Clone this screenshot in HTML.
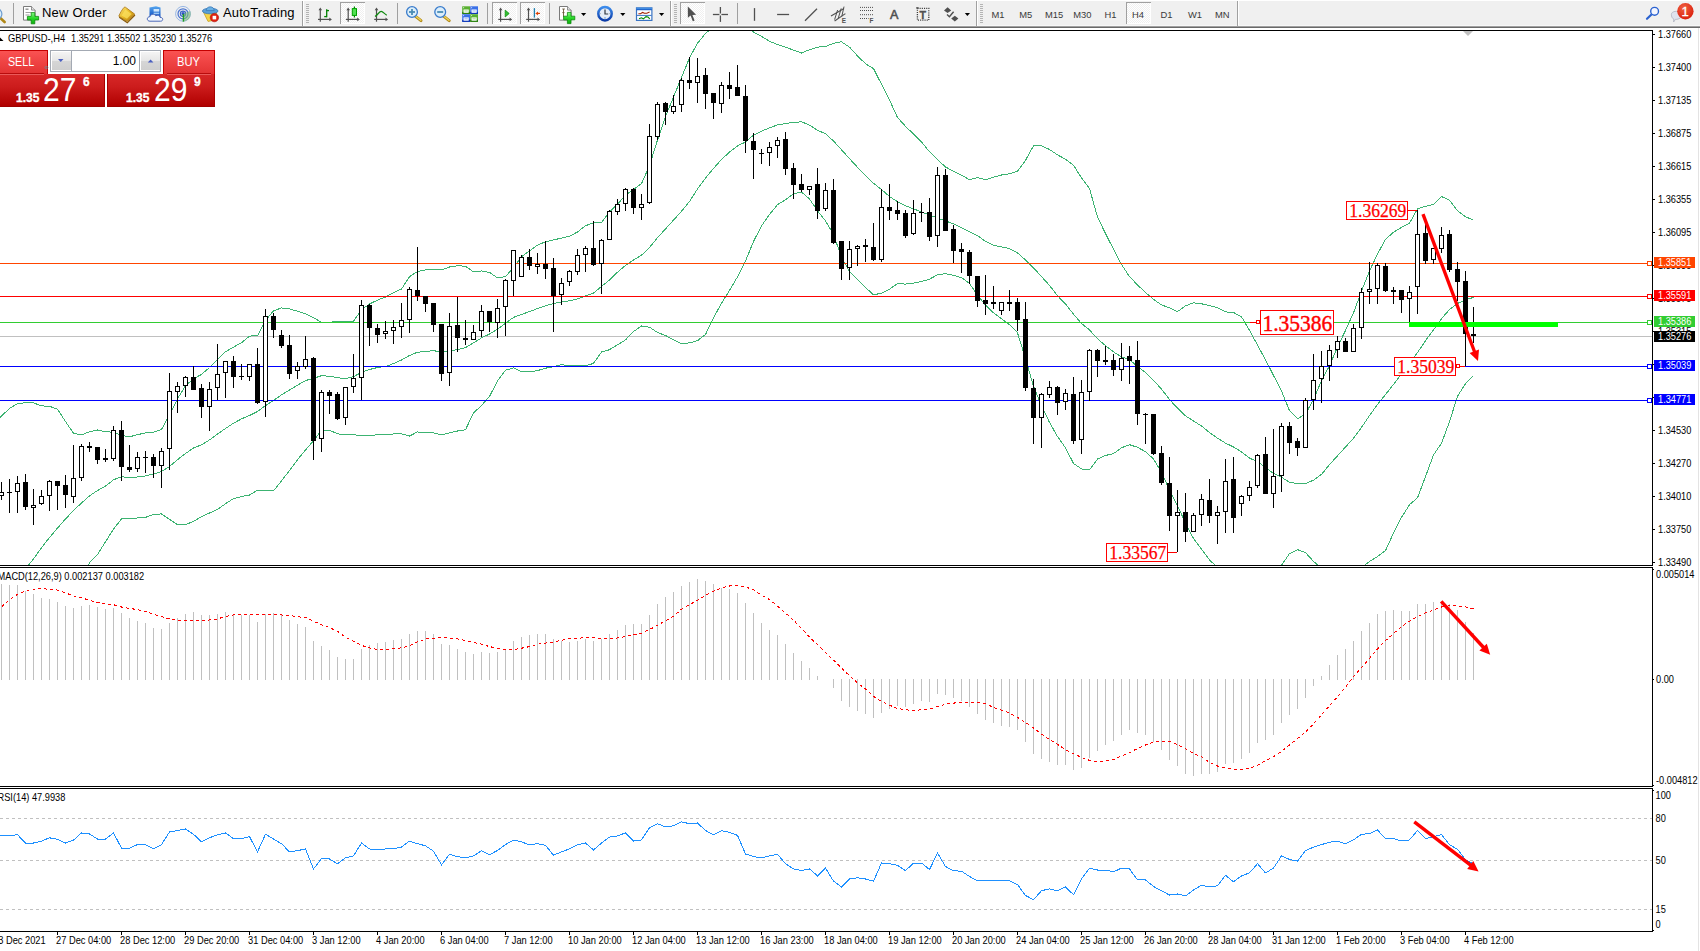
<!DOCTYPE html>
<html><head><meta charset="utf-8"><title>GBPUSD-,H4</title>
<style>
html,body{margin:0;padding:0;background:#fff;}
body{width:1700px;height:951px;overflow:hidden;position:relative;font-family:"Liberation Sans",sans-serif;}
#tb{position:absolute;left:0;top:0;width:1700px;height:26px;background:#f0f0f0;border-top:1px solid #fff;box-sizing:border-box;}
.ln{position:absolute;left:0;width:1700px;height:1px;}
#chart{position:absolute;left:0;top:0;}
.ax{font-size:10.2px;fill:#000;font-family:"Liberation Sans",sans-serif;}
#oc{position:absolute;left:0;top:50px;width:216px;height:57px;font-family:"Liberation Sans",sans-serif;}
</style></head><body>

<div id="tb"></div>
<div class="ln" style="top:25px;background:#f7f7f7"></div>
<div class="ln" style="top:26px;background:#a0a0a0"></div>
<div class="ln" style="top:27px;background:#696969"></div>
<svg style="position:absolute;left:0;top:0" width="1700" height="28" viewBox="0 0 1700 28">
<defs>
<linearGradient id="gold" x1="0" y1="0" x2="1" y2="1"><stop offset="0" stop-color="#fbe27a"/><stop offset="0.5" stop-color="#e8b820"/><stop offset="1" stop-color="#a86c10"/></linearGradient>
<linearGradient id="grn" x1="0" y1="0" x2="0" y2="1"><stop offset="0" stop-color="#86fa86"/><stop offset="0.5" stop-color="#28d828"/><stop offset="1" stop-color="#0cac0c"/></linearGradient>
<linearGradient id="blu" x1="0" y1="0" x2="0" y2="1"><stop offset="0" stop-color="#58a8f0"/><stop offset="1" stop-color="#0a4cc0"/></linearGradient>
<linearGradient id="blu2" x1="0" y1="0" x2="0" y2="1"><stop offset="0" stop-color="#3c8cec"/><stop offset="1" stop-color="#0c3ca8"/></linearGradient>
<radialGradient id="redb" cx="0.4" cy="0.3" r="0.8"><stop offset="0" stop-color="#f06040"/><stop offset="1" stop-color="#d81808"/></radialGradient>
<pattern id="hatch" width="2" height="2" patternUnits="userSpaceOnUse"><rect width="2" height="2" fill="#fff"/><rect width="1" height="1" fill="#f0f0f0"/><rect x="1" y="1" width="1" height="1" fill="#f0f0f0"/></pattern>
</defs>
<line x1="-1" y1="16.8" x2="4.6" y2="22" stroke="#b08818" stroke-width="2.6" stroke-linecap="round"/><circle cx="-3.5" cy="14" r="5.4" fill="#dceefa" stroke="#6a9cd0" stroke-width="1.2"/>
<rect x="13" y="3" width="1" height="21" fill="#a0a0a0"/>
<path d="M23.5 6.5 h8 l3.6 3.6 v10 h-11.6 Z" fill="#fff" stroke="#7a7a7a" stroke-width="1"/><path d="M31.5 6.5 v3.6 h3.6" fill="#e0e0e0" stroke="#7a7a7a" stroke-width="0.8"/>
<rect x="25.5" y="8.5" width="3" height="1.4" fill="#909090"/><rect x="25.5" y="12" width="6" height="1" fill="#a0a0a0"/><rect x="25.5" y="14.5" width="4" height="1" fill="#a0a0a0"/>
<path d="M31.2 12.6 h3.6 v3.8 h3.8 v3.6 h-3.8 v3.8 h-3.6 v-3.8 h-3.8 v-3.6 h3.8 Z" fill="url(#grn)" stroke="#0a8a0a" stroke-width="0.8"/>
<text x="42" y="17" font-family="Liberation Sans, sans-serif" font-size="13" letter-spacing="0.22" fill="#000">New Order</text>
<path d="M118.8 16.2 C120 13 122 10 123.4 8.2 C124 7 125.4 6.8 126.2 7.8 L134.7 14.1 L127.3 21.6 Z" fill="url(#gold)" stroke="#a87410" stroke-width="0.8"/><path d="M121.6 15.4 L125.4 9.6 L131.6 14 L127 18.8 Z" fill="#fbe060" fill-opacity="0.75"/><path d="M119.2 17.2 L127.3 22.8 L135 15" fill="none" stroke="#8a5a08" stroke-width="1.1"/>
<path d="M149.5 7.5 L156 6.2 L160.5 7.5 V17 H149.5 Z" fill="url(#blu)"/><rect x="153.6" y="9" width="5.6" height="2.6" fill="#cfe6fb"/><rect x="153.6" y="12.6" width="5.6" height="1.6" fill="#9cc8f4"/>
<path d="M150 21.2 C146.4 21.2 146.4 16.8 150 16.6 C150.6 13.8 154.8 13.6 155.8 15.8 C157.4 14.6 160 15.4 160 17.4 C163.4 17 163.6 21.2 160.6 21.2 Z" fill="#f2f6fc" stroke="#4a68b8" stroke-width="1"/>
<circle cx="183" cy="13.8" r="7.4" fill="none" stroke="#9ab8e4" stroke-width="1"/><circle cx="183" cy="13.8" r="5" fill="none" stroke="#4a74d0" stroke-width="1.2"/><circle cx="183" cy="13.8" r="2.6" fill="none" stroke="#3a64c8" stroke-width="1.2"/>
<path d="M183 13.8 L183 21.4 A7.6 7.6 0 0 0 190.2 11 Z" fill="#78b878" fill-opacity="0.6"/><circle cx="183" cy="13.4" r="1.5" fill="#2a50c0"/><line x1="183.4" y1="14" x2="183.4" y2="21.6" stroke="#20a020" stroke-width="1.4"/>
<path d="M203.4 12 L216.6 12 L215 20 L208 21.4 Z" fill="#f4d448" stroke="#c8a020" stroke-width="0.8"/><ellipse cx="210.2" cy="11" rx="7.8" ry="2.8" fill="#5aa0d8" stroke="#3a78b8" stroke-width="0.8"/><path d="M206.2 10.6 C206.2 5.6 214.2 5.6 214.2 10.6 Z" fill="#6ab0e4" stroke="#3a78b8" stroke-width="0.8"/>
<circle cx="214.4" cy="17.6" r="4.2" fill="#e02010" stroke="#b01008" stroke-width="0.6"/><rect x="212.6" y="15.8" width="3.6" height="3.6" fill="#fff"/>
<text x="223" y="17" font-family="Liberation Sans, sans-serif" font-size="13" letter-spacing="0.12" fill="#000">AutoTrading</text>
<rect x="302" y="1" width="1" height="25" fill="#a0a0a0"/><rect x="303" y="1" width="1" height="25" fill="#fff"/>
<rect x="306" y="4" width="3" height="1" fill="#b4b4b4"/>
<rect x="306" y="6" width="3" height="1" fill="#b4b4b4"/>
<rect x="306" y="8" width="3" height="1" fill="#b4b4b4"/>
<rect x="306" y="10" width="3" height="1" fill="#b4b4b4"/>
<rect x="306" y="12" width="3" height="1" fill="#b4b4b4"/>
<rect x="306" y="14" width="3" height="1" fill="#b4b4b4"/>
<rect x="306" y="16" width="3" height="1" fill="#b4b4b4"/>
<rect x="306" y="18" width="3" height="1" fill="#b4b4b4"/>
<rect x="306" y="20" width="3" height="1" fill="#b4b4b4"/>
<rect x="306" y="22" width="3" height="1" fill="#b4b4b4"/>
<g stroke="#505050" stroke-width="1.2" fill="#505050"><line x1="320.3" y1="9" x2="320.3" y2="21.7"/><line x1="318.0" y1="19.4" x2="330.3" y2="19.4"/><path d="M320.3 7.6 L322.1 10.2 L318.5 10.2 Z" stroke="none"/><path d="M331.90000000000003 19.4 L329.3 17.6 L329.3 21.2 Z" stroke="none"/></g>
<g stroke="#008000" stroke-width="1.3"><line x1="326.7" y1="9.2" x2="326.7" y2="17.3"/><line x1="326.7" y1="10.6" x2="329" y2="10.6"/><line x1="324.2" y1="16.6" x2="326.7" y2="16.6"/></g>
<rect x="340" y="2" width="25" height="22" fill="url(#hatch)"/><rect x="340" y="2" width="25" height="1" fill="#a0a0a0"/><rect x="340" y="2" width="1" height="22" fill="#a0a0a0"/><rect x="364" y="3" width="1" height="21" fill="#fff"/><rect x="341" y="23" width="24" height="1" fill="#fff"/>
<g stroke="#505050" stroke-width="1.2" fill="#505050"><line x1="348.2" y1="9" x2="348.2" y2="21.7"/><line x1="345.9" y1="19.4" x2="358.2" y2="19.4"/><path d="M348.2 7.6 L350.0 10.2 L346.4 10.2 Z" stroke="none"/><path d="M359.8 19.4 L357.2 17.6 L357.2 21.2 Z" stroke="none"/></g>
<line x1="354.4" y1="6.4" x2="354.4" y2="17.6" stroke="#008000" stroke-width="1.2"/><rect x="352.3" y="8.6" width="4.2" height="6.8" fill="#50e050" stroke="#00a000" stroke-width="1"/>
<g stroke="#505050" stroke-width="1.2" fill="#505050"><line x1="376.5" y1="9" x2="376.5" y2="21.7"/><line x1="374.2" y1="19.4" x2="386.5" y2="19.4"/><path d="M376.5 7.6 L378.3 10.2 L374.7 10.2 Z" stroke="none"/><path d="M388.1 19.4 L385.5 17.6 L385.5 21.2 Z" stroke="none"/></g>
<path d="M375 16.6 C378 14.6 379.4 11.2 381.2 11.3 C383 11.4 384.4 14 386.8 15.3" fill="none" stroke="#108a10" stroke-width="1.2"/>
<rect x="397" y="3" width="1" height="21" fill="#a0a0a0"/>
<line x1="415.6" y1="16.4" x2="421" y2="20.6" stroke="#b08818" stroke-width="3" stroke-linecap="round"/><line x1="415.8" y1="16.2" x2="420.8" y2="20.2" stroke="#f0d458" stroke-width="1.4" stroke-linecap="round"/>
<circle cx="412" cy="12" r="5.4" fill="#dceefa" stroke="#3a7ccc" stroke-width="1.3"/>
<line x1="409" y1="12" x2="415" y2="12" stroke="#4a8cb4" stroke-width="1.8"/>
<line x1="412" y1="9" x2="412" y2="15" stroke="#4a8cb4" stroke-width="1.8"/>
<line x1="443.8" y1="16.4" x2="449.2" y2="20.6" stroke="#b08818" stroke-width="3" stroke-linecap="round"/><line x1="444.0" y1="16.2" x2="449.0" y2="20.2" stroke="#f0d458" stroke-width="1.4" stroke-linecap="round"/>
<circle cx="440.2" cy="12" r="5.4" fill="#dceefa" stroke="#3a7ccc" stroke-width="1.3"/>
<line x1="437.2" y1="12" x2="443.2" y2="12" stroke="#4a8cb4" stroke-width="1.8"/>
<rect x="462.2" y="6.3" width="7.8" height="7.7" fill="#58b030"/><rect x="462.2" y="11.8" width="7.8" height="2.2" fill="#2a8010"/><rect x="463.5" y="9.5" width="5.2" height="3.3" fill="#fff"/><rect x="464.4" y="10.5" width="3.4" height="0.9" fill="#58b030" fill-opacity="0.6"/><rect x="463.09999999999997" y="7.2" width="1" height="1" fill="#fff" fill-opacity="0.8"/>
<rect x="470.2" y="6.3" width="7.8" height="7.7" fill="#3a70e8"/><rect x="470.2" y="11.8" width="7.8" height="2.2" fill="#1038b8"/><rect x="471.5" y="9.5" width="5.2" height="3.3" fill="#fff"/><rect x="472.4" y="10.5" width="3.4" height="0.9" fill="#3a70e8" fill-opacity="0.6"/><rect x="471.09999999999997" y="7.2" width="1" height="1" fill="#fff" fill-opacity="0.8"/>
<rect x="462.2" y="14.2" width="7.8" height="7.7" fill="#3a70e8"/><rect x="462.2" y="19.7" width="7.8" height="2.2" fill="#1038b8"/><rect x="463.5" y="17.4" width="5.2" height="3.3" fill="#fff"/><rect x="464.4" y="18.4" width="3.4" height="0.9" fill="#3a70e8" fill-opacity="0.6"/><rect x="463.09999999999997" y="15.1" width="1" height="1" fill="#fff" fill-opacity="0.8"/>
<rect x="470.2" y="14.2" width="7.8" height="7.7" fill="#58b030"/><rect x="470.2" y="19.7" width="7.8" height="2.2" fill="#2a8010"/><rect x="471.5" y="17.4" width="5.2" height="3.3" fill="#fff"/><rect x="472.4" y="18.4" width="3.4" height="0.9" fill="#58b030" fill-opacity="0.6"/><rect x="471.09999999999997" y="15.1" width="1" height="1" fill="#fff" fill-opacity="0.8"/>
<rect x="487" y="3" width="1" height="21" fill="#a0a0a0"/>
<rect x="492" y="2" width="25" height="22" fill="url(#hatch)"/><rect x="492" y="2" width="25" height="1" fill="#a0a0a0"/><rect x="492" y="2" width="1" height="22" fill="#a0a0a0"/><rect x="516" y="3" width="1" height="21" fill="#fff"/><rect x="493" y="23" width="24" height="1" fill="#fff"/>
<g stroke="#505050" stroke-width="1.2" fill="#505050"><line x1="500.6" y1="9" x2="500.6" y2="21.7"/><line x1="498.3" y1="19.4" x2="510.6" y2="19.4"/><path d="M500.6 7.6 L502.40000000000003 10.2 L498.8 10.2 Z" stroke="none"/><path d="M512.2 19.4 L509.6 17.6 L509.6 21.2 Z" stroke="none"/></g>
<path d="M505.2 10.2 L505.2 16.9 L509.2 13.5 Z" fill="#30c030" stroke="#109010" stroke-width="0.8"/>
<rect x="520" y="2" width="25" height="22" fill="url(#hatch)"/><rect x="520" y="2" width="25" height="1" fill="#a0a0a0"/><rect x="520" y="2" width="1" height="22" fill="#a0a0a0"/><rect x="544" y="3" width="1" height="21" fill="#fff"/><rect x="521" y="23" width="24" height="1" fill="#fff"/>
<g stroke="#505050" stroke-width="1.2" fill="#505050"><line x1="528.5" y1="9" x2="528.5" y2="21.7"/><line x1="526.2" y1="19.4" x2="538.5" y2="19.4"/><path d="M528.5 7.6 L530.3 10.2 L526.7 10.2 Z" stroke="none"/><path d="M540.1 19.4 L537.5 17.6 L537.5 21.2 Z" stroke="none"/></g>
<line x1="534.4" y1="8.1" x2="534.4" y2="17.6" stroke="#2080b0" stroke-width="1.3"/><path d="M535.4 13.4 L538 11.6 L538 15.2 Z" fill="#e04000"/><line x1="537" y1="13.4" x2="540" y2="13.4" stroke="#e04000" stroke-width="1.2"/>
<rect x="549" y="3" width="1" height="21" fill="#a0a0a0"/>
<path d="M559.5 6.5 h8 l3.6 3.6 v10 h-11.6 Z" fill="#fff" stroke="#7a7a7a" stroke-width="1"/><path d="M567.5 6.5 v3.6 h3.6" fill="#e0e0e0" stroke="#7a7a7a" stroke-width="0.8"/>
<path d="M563.5 9 v8 M562.3 9 h2.6 M562.3 12.6 h2.2" stroke="#6a5a3a" stroke-width="0.9" fill="none"/>
<path d="M567.4000000000001 12.4 h3.6 v3.8 h3.8 v3.6 h-3.8 v3.8 h-3.6 v-3.8 h-3.8 v-3.6 h3.8 Z" fill="url(#grn)" stroke="#0a8a0a" stroke-width="0.8"/>
<path d="M581 13 L586.2 13 L583.6 16 Z" fill="#000"/>
<circle cx="605" cy="13.7" r="6.7" fill="#e4ecf6" stroke="url(#blu2)" stroke-width="2.5"/><path d="M605 9.6 V14 H608.2" fill="none" stroke="#303840" stroke-width="1.2"/><g fill="#8a98a8"><rect x="604.6" y="8.4" width="0.8" height="1"/><rect x="604.6" y="18" width="0.8" height="1"/><rect x="599.8" y="13.3" width="1" height="0.8"/><rect x="609.2" y="13.3" width="1" height="0.8"/></g><circle cx="605" cy="17.6" r="0.7" fill="#5aa0f0"/>
<path d="M620.2 13 L625.4000000000001 13 L622.8000000000001 16 Z" fill="#000"/>
<rect x="636.5" y="7.8" width="15.4" height="12.6" fill="#fff" stroke="#3a74c4" stroke-width="1.2"/><rect x="636.5" y="7.8" width="15.4" height="2.4" fill="url(#blu)"/><line x1="637" y1="15.4" x2="651.6" y2="15.4" stroke="#3a74c4" stroke-width="1"/>
<path d="M638.4 13.8 L640.6 13.8 L642.6 12.4 L644.4 13.2 L646.8 13.2 L649.6 12" fill="none" stroke="#a02000" stroke-width="1.1"/><path d="M639 18.8 L641.4 17.8 L643.4 18.8 L646 16.6 L648 17 L649.8 18.8" fill="none" stroke="#008a00" stroke-width="1.1"/>
<path d="M659 13 L664.2 13 L661.6 16 Z" fill="#000"/>
<rect x="670" y="1" width="1" height="25" fill="#a0a0a0"/><rect x="671" y="1" width="1" height="25" fill="#fff"/>
<rect x="674" y="4" width="3" height="1" fill="#b4b4b4"/>
<rect x="674" y="6" width="3" height="1" fill="#b4b4b4"/>
<rect x="674" y="8" width="3" height="1" fill="#b4b4b4"/>
<rect x="674" y="10" width="3" height="1" fill="#b4b4b4"/>
<rect x="674" y="12" width="3" height="1" fill="#b4b4b4"/>
<rect x="674" y="14" width="3" height="1" fill="#b4b4b4"/>
<rect x="674" y="16" width="3" height="1" fill="#b4b4b4"/>
<rect x="674" y="18" width="3" height="1" fill="#b4b4b4"/>
<rect x="674" y="20" width="3" height="1" fill="#b4b4b4"/>
<rect x="674" y="22" width="3" height="1" fill="#b4b4b4"/>
<rect x="680" y="2" width="25" height="22" fill="url(#hatch)"/><rect x="680" y="2" width="25" height="1" fill="#a0a0a0"/><rect x="680" y="2" width="1" height="22" fill="#a0a0a0"/><rect x="704" y="3" width="1" height="21" fill="#fff"/><rect x="681" y="23" width="24" height="1" fill="#fff"/>
<path d="M687.8 6.6 L687.9 17.8 L690.6 15.4 L692.8 21.2 L694.6 20.4 L692.4 14.9 L696.1 14.7 Z" fill="#505050"/>
<g stroke="#505050" stroke-width="1.3"><line x1="712.9" y1="14.5" x2="719.4" y2="14.5"/><line x1="721.4" y1="14.5" x2="728" y2="14.5"/><line x1="720.4" y1="7" x2="720.4" y2="13.5"/><line x1="720.4" y1="15.5" x2="720.4" y2="21.9"/></g>
<rect x="737" y="3" width="1" height="21" fill="#a0a0a0"/>
<g stroke="#505050" stroke-width="1.3"><line x1="754.5" y1="8.1" x2="754.5" y2="20.8"/><line x1="777.1" y1="14.5" x2="789.1" y2="14.5"/><line x1="805" y1="20.8" x2="817" y2="8.8"/></g>
<g stroke="#505050" stroke-width="1.15" fill="none"><line x1="831" y1="16" x2="844" y2="8.6"/><line x1="834.6" y1="21" x2="845.4" y2="13.6"/><g stroke-width="1"><line x1="834.6" y1="19.6" x2="837.6" y2="10"/><line x1="838.2" y1="18.4" x2="841.2" y2="8.4"/><line x1="841.8" y1="16.4" x2="844" y2="6.6"/></g></g>
<text x="841.8" y="22.6" font-family="Liberation Sans, sans-serif" font-size="6.4" font-weight="bold" fill="#505050">E</text>
<line x1="860" y1="7.4" x2="873" y2="7.4" stroke="#505050" stroke-width="1" stroke-dasharray="1 1"/>
<line x1="860" y1="10.5" x2="873" y2="10.5" stroke="#505050" stroke-width="1" stroke-dasharray="1 1"/>
<line x1="860" y1="14.7" x2="873" y2="14.7" stroke="#505050" stroke-width="1" stroke-dasharray="1 1"/>
<line x1="860" y1="18.5" x2="868.6" y2="18.5" stroke="#505050" stroke-width="1" stroke-dasharray="1 1"/>
<text x="869.6" y="22.6" font-family="Liberation Sans, sans-serif" font-size="6.4" font-weight="bold" fill="#505050">F</text>
<text x="890" y="18.9" font-family="Liberation Sans, sans-serif" font-size="12.6" fill="#505050" stroke="#505050" stroke-width="0.55">A</text>
<rect x="917.4" y="8.4" width="11.4" height="11.8" fill="none" stroke="#3c3c3c" stroke-width="1.3" stroke-dasharray="1.1 1.1"/><rect x="916.2" y="7.2" width="2.4" height="1.4" fill="#505050"/>
<text x="919.4" y="18.6" font-family="Liberation Sans, sans-serif" font-size="10.8" font-weight="bold" fill="#505050" stroke="#505050" stroke-width="0.3">T</text>
<path d="M947.6 7.2 L951.2 10.4 L947.6 13 L944 10.4 Z" fill="#505050"/><path d="M954.8 21.6 L958.4 18.4 L954.8 15.8 L951.2 18.4 Z" fill="#505050"/><path d="M947 14.6 L949.4 16.8 L953.6 11.8" fill="none" stroke="#505050" stroke-width="1.4"/>
<path d="M964.8 13 L970.0 13 L967.4 16 Z" fill="#000"/>
<rect x="976" y="1" width="1" height="25" fill="#a0a0a0"/><rect x="977" y="1" width="1" height="25" fill="#fff"/>
<rect x="980" y="4" width="3" height="1" fill="#b4b4b4"/>
<rect x="980" y="6" width="3" height="1" fill="#b4b4b4"/>
<rect x="980" y="8" width="3" height="1" fill="#b4b4b4"/>
<rect x="980" y="10" width="3" height="1" fill="#b4b4b4"/>
<rect x="980" y="12" width="3" height="1" fill="#b4b4b4"/>
<rect x="980" y="14" width="3" height="1" fill="#b4b4b4"/>
<rect x="980" y="16" width="3" height="1" fill="#b4b4b4"/>
<rect x="980" y="18" width="3" height="1" fill="#b4b4b4"/>
<rect x="980" y="20" width="3" height="1" fill="#b4b4b4"/>
<rect x="980" y="22" width="3" height="1" fill="#b4b4b4"/>
<rect x="1126" y="2" width="25" height="22" fill="url(#hatch)"/><rect x="1126" y="2" width="25" height="1" fill="#a0a0a0"/><rect x="1126" y="2" width="1" height="22" fill="#a0a0a0"/><rect x="1150" y="3" width="1" height="21" fill="#fff"/><rect x="1127" y="23" width="24" height="1" fill="#fff"/>
<text x="998" y="18" text-anchor="middle" font-family="Liberation Sans, sans-serif" font-size="9.4" fill="#3a3a3a">M1</text>
<text x="1025.7" y="18" text-anchor="middle" font-family="Liberation Sans, sans-serif" font-size="9.4" fill="#3a3a3a">M5</text>
<text x="1054.2" y="18" text-anchor="middle" font-family="Liberation Sans, sans-serif" font-size="9.4" fill="#3a3a3a">M15</text>
<text x="1082.4" y="18" text-anchor="middle" font-family="Liberation Sans, sans-serif" font-size="9.4" fill="#3a3a3a">M30</text>
<text x="1110.5" y="18" text-anchor="middle" font-family="Liberation Sans, sans-serif" font-size="9.4" fill="#3a3a3a">H1</text>
<text x="1138" y="18" text-anchor="middle" font-family="Liberation Sans, sans-serif" font-size="9.4" fill="#3a3a3a">H4</text>
<text x="1166.4" y="18" text-anchor="middle" font-family="Liberation Sans, sans-serif" font-size="9.4" fill="#3a3a3a">D1</text>
<text x="1195" y="18" text-anchor="middle" font-family="Liberation Sans, sans-serif" font-size="9.4" fill="#3a3a3a">W1</text>
<text x="1222.2" y="18" text-anchor="middle" font-family="Liberation Sans, sans-serif" font-size="9.4" fill="#3a3a3a">MN</text>
<rect x="1237" y="1" width="1" height="25" fill="#a0a0a0"/><rect x="1238" y="1" width="1" height="24" fill="#fff"/>
<line x1="1652" y1="14" x2="1647" y2="18.8" stroke="#2a62d0" stroke-width="2.2" stroke-linecap="round"/><circle cx="1654.6" cy="11.3" r="3.9" fill="#f4f6ff" stroke="#2a62d0" stroke-width="1.4"/>
<path d="M1671.4 14.4 C1671.4 10.2 1681.6 10.2 1681.6 14.8 C1681.6 19 1677 19.4 1675.4 19.4 L1673.6 22 L1673.8 19 C1672 18.4 1671.4 16.4 1671.4 14.4 Z" fill="#dfe3ee" stroke="#b4b8c4" stroke-width="0.9"/>
<circle cx="1685.4" cy="11.3" r="8.2" fill="url(#redb)"/>
<text x="1685.2" y="15.8" text-anchor="middle" font-family="Liberation Sans, sans-serif" font-size="13" fill="#fff" stroke="#fff" stroke-width="0.3">1</text>
</svg>
<div id="oc">
<style>
#oc div{position:absolute;box-sizing:border-box;}
#oc .top{top:0;height:25px;background:linear-gradient(#fa5252,#e23232);border-top:1px solid #c40000;}
#oc .bot{top:24px;height:33px;background:linear-gradient(#d82828,#cc1c1c 40%,#b00000);border-right:1px solid #a80000;border-bottom:1px solid #a00000;}
#oc .lbl{color:#fff;font-size:12px;line-height:12px;top:5.9px;white-space:nowrap;transform-origin:0 0;}
#oc .ul{height:2px;top:23px;background:linear-gradient(#b80c0c 50%,#ea5a5a 50%);}
#oc .sm{color:#fff;font-weight:bold;font-size:12px;line-height:12px;top:42.2px;white-space:nowrap;-webkit-text-stroke:0.35px #fff;}
#oc .big{color:#fff;font-size:33.4px;line-height:33px;top:22.9px;white-space:nowrap;transform:scaleX(0.9);transform-origin:0 0;}
#oc .sup{color:#fff;font-weight:bold;font-size:12px;line-height:12px;top:26px;white-space:nowrap;-webkit-text-stroke:0.3px #fff;}
#oc .btn{top:2px;height:18px;width:19px;background:linear-gradient(#f4f4f4,#e6e6e6 48%,#d6d6d6 52%,#cfcfcf);}
</style>
<div class="top" style="left:0;width:48px;border-right:1px solid #c40000;"></div>
<div class="top" style="left:163px;width:52px;border-left:1px solid #c40000;border-right:1px solid #c40000;"></div>
<div class="bot" style="left:0;width:105px;"></div>
<div class="bot" style="left:107px;width:108px;border-left:1px solid #a80000;"></div>
<div class="ul" style="left:0;width:44px;"></div>
<div class="ul" style="left:167px;width:44px;"></div>
<div class="lbl" style="left:8px;transform:scaleX(0.89);">SELL</div>
<div class="lbl" style="left:176.5px;transform:scaleX(0.93);">BUY</div>
<div style="left:48px;top:0;width:115px;height:24px;background:#fff;"></div>
<div style="left:50px;top:0;width:111px;height:22px;background:#fff;border:1px solid #a3a9b3;"></div>
<div class="btn" style="left:52px;"></div>
<div class="btn" style="left:141px;"></div>
<div style="left:71px;top:1px;width:1px;height:20px;background:#a3a9b3;"></div>
<div style="left:139px;top:1px;width:1px;height:20px;background:#a3a9b3;"></div>
<svg style="position:absolute;left:0;top:0" width="216" height="57"><path d="M58 9 L63.5 9 L60.75 12 Z" fill="#4a5fc0"/><path d="M147.8 12.6 L153.4 12.6 L150.6 9.6 Z" fill="#4a5fc0"/><path d="M46.5 16 L48 17.5 L46.5 19 L45 17.5 Z" fill="none" stroke="#30b0c0" stroke-width="0.7"/></svg>
<div style="left:100px;top:5.2px;width:36px;text-align:right;font-size:12px;line-height:12px;color:#000;">1.00</div>
<div class="sm" style="left:16px;">1.35</div>
<div class="big" style="left:43.2px;">27</div>
<div class="sup" style="left:83px;">6</div>
<div class="sm" style="left:126px;">1.35</div>
<div class="big" style="left:154px;">29</div>
<div class="sup" style="left:194px;">9</div>
</div>

<svg id="chart" width="1700" height="951" viewBox="0 0 1700 951">
<defs><clipPath id="cm"><rect x="0" y="31" width="1652" height="534"/></clipPath><clipPath id="c2"><rect x="0" y="568" width="1652" height="218"/></clipPath><clipPath id="c3"><rect x="0" y="789" width="1652" height="142"/></clipPath></defs>
<g shape-rendering="crispEdges" fill="#000">
<rect x="0" y="30" width="1653" height="1"/>
<rect x="1652" y="30" width="1" height="536"/><rect x="1652" y="567" width="1" height="220"/><rect x="1652" y="788" width="1" height="144"/>
<rect x="0" y="565" width="1653" height="1"/>
<rect x="0" y="567" width="1653" height="1"/>
<rect x="0" y="786" width="1653" height="1"/>
<rect x="0" y="788" width="1653" height="1"/>
<rect x="0" y="931" width="1653" height="1"/>
</g>
<rect x="1698" y="28" width="1" height="923" fill="#e3e3e3" shape-rendering="crispEdges"/>
<g clip-path="url(#cm)">
<rect x="0" y="336" width="1652" height="1" fill="#c0c0c0" shape-rendering="crispEdges"/>
<polyline points="-6.5,423.5 1.5,416.0 9.5,408.5 17.5,403.5 25.5,402.8 33.5,402.8 41.5,405.9 49.5,406.3 57.5,409.2 65.5,421.5 73.5,433.3 81.5,434.9 89.5,431.7 97.5,430.0 105.5,431.7 113.5,432.3 121.5,435.3 129.5,436.8 137.5,434.7 145.5,432.9 153.5,432.3 161.5,429.4 169.5,414.9 177.5,398.8 185.5,385.7 193.5,378.9 201.5,374.4 209.5,367.5 217.5,359.5 225.5,351.8 233.5,347.1 241.5,342.7 249.5,336.1 257.5,335.7 265.5,320.6 273.5,310.8 281.5,307.9 289.5,308.9 297.5,311.2 305.5,313.7 313.5,317.7 321.5,322.3 329.5,322.3 337.5,321.3 345.5,321.1 353.5,321.1 361.5,309.8 369.5,304.0 377.5,300.1 385.5,297.1 393.5,292.6 401.5,289.0 409.5,276.7 417.5,271.5 425.5,269.9 433.5,269.5 441.5,269.9 449.5,267.0 457.5,265.8 465.5,266.2 473.5,272.0 481.5,270.9 489.5,272.4 497.5,277.9 505.5,276.7 513.5,267.5 521.5,256.8 529.5,250.9 537.5,245.1 545.5,241.7 553.5,239.9 561.5,238.1 569.5,236.2 577.5,232.0 585.5,225.7 593.5,222.9 601.5,222.5 609.5,212.0 617.5,204.2 625.5,195.2 633.5,189.4 641.5,183.7 649.5,165.5 657.5,140.0 665.5,116.5 673.5,97.0 681.5,77.5 689.5,57.9 697.5,43.2 705.5,33.5 713.5,26.5 721.5,21.5 729.5,19.5 737.5,21.5 745.5,26.5 753.5,32.0 761.5,36.4 769.5,41.3 777.5,44.6 785.5,47.1 793.5,50.1 801.5,53.0 809.5,49.7 817.5,47.1 825.5,46.7 833.5,43.2 841.5,41.8 849.5,47.1 857.5,55.9 865.5,63.7 873.5,68.6 881.5,84.3 889.5,99.9 897.5,117.5 905.5,126.3 913.5,134.1 921.5,142.0 929.5,151.7 937.5,159.6 945.5,167.0 953.5,171.3 961.5,175.2 969.5,179.7 977.5,177.5 985.5,179.7 993.5,177.2 1001.5,175.0 1009.5,173.7 1017.5,171.3 1025.5,160.3 1033.5,145.9 1041.5,145.7 1049.5,149.5 1057.5,154.8 1065.5,159.3 1073.5,165.2 1081.5,177.9 1089.5,188.6 1097.5,217.0 1105.5,233.6 1113.5,249.2 1121.5,264.5 1129.5,276.6 1137.5,284.9 1145.5,292.5 1153.5,299.4 1161.5,304.9 1169.5,307.9 1177.5,311.6 1185.5,305.9 1193.5,302.8 1201.5,303.8 1209.5,305.5 1217.5,307.8 1225.5,311.9 1233.5,312.5 1241.5,316.8 1249.5,330.4 1257.5,345.1 1265.5,359.8 1273.5,375.4 1281.5,390.9 1289.5,410.7 1297.5,418.7 1305.5,414.1 1313.5,399.3 1321.5,380.9 1329.5,365.6 1337.5,347.1 1345.5,330.4 1353.5,312.8 1361.5,291.3 1369.5,270.8 1377.5,254.2 1385.5,239.2 1393.5,232.3 1401.5,227.4 1409.5,223.1 1417.5,208.9 1425.5,206.3 1433.5,204.4 1441.5,196.5 1449.5,200.1 1457.5,210.8 1465.5,216.7 1473.5,220.2" fill="none" stroke="#3cb371" stroke-width="1" shape-rendering="crispEdges" />
<polyline points="-6.5,610.5 1.5,600.5 9.5,590.5 17.5,578.5 25.5,568.5 33.5,559.0 41.5,547.7 49.5,537.5 57.5,528.1 65.5,519.0 73.5,510.5 81.5,503.0 89.5,495.9 97.5,490.5 105.5,486.1 113.5,479.8 121.5,476.7 129.5,477.7 137.5,477.0 145.5,475.9 153.5,474.0 161.5,471.5 169.5,466.5 177.5,459.7 185.5,453.5 193.5,448.0 201.5,444.8 209.5,439.9 217.5,434.0 225.5,428.5 233.5,423.2 241.5,418.9 249.5,415.5 257.5,411.5 265.5,405.6 273.5,400.4 281.5,394.9 289.5,390.0 297.5,385.1 305.5,380.6 313.5,378.3 321.5,375.7 329.5,376.3 337.5,377.7 345.5,378.7 353.5,376.7 361.5,372.4 369.5,369.5 377.5,367.5 385.5,366.5 393.5,363.6 401.5,360.0 409.5,355.5 417.5,352.2 425.5,351.6 433.5,350.6 441.5,352.2 449.5,350.6 457.5,349.7 465.5,347.7 473.5,342.8 481.5,337.9 489.5,334.0 497.5,329.1 505.5,323.3 513.5,317.4 521.5,314.5 529.5,311.5 537.5,308.6 545.5,305.7 553.5,303.7 561.5,301.8 569.5,300.8 577.5,298.8 585.5,295.9 593.5,293.0 601.5,286.5 609.5,280.0 617.5,272.2 625.5,265.5 633.5,260.0 641.5,255.2 649.5,247.5 657.5,237.7 665.5,228.9 673.5,220.1 681.5,211.3 689.5,201.5 697.5,188.9 705.5,178.1 713.5,168.4 721.5,159.5 729.5,152.1 737.5,145.9 745.5,142.0 753.5,135.1 761.5,131.2 769.5,127.9 777.5,124.9 785.5,123.5 793.5,122.4 801.5,121.8 809.5,125.1 817.5,130.2 825.5,133.7 833.5,141.0 841.5,149.8 849.5,158.6 857.5,167.3 865.5,175.5 873.5,183.2 881.5,189.5 889.5,196.5 897.5,201.7 905.5,205.8 913.5,208.8 921.5,212.1 929.5,215.0 937.5,218.0 945.5,220.9 953.5,223.8 961.5,227.7 969.5,231.6 977.5,235.6 985.5,241.4 993.5,245.3 1001.5,246.8 1009.5,248.7 1017.5,252.9 1025.5,260.0 1033.5,267.8 1041.5,276.6 1049.5,285.4 1057.5,295.7 1065.5,304.0 1073.5,314.2 1081.5,323.5 1089.5,329.9 1097.5,338.8 1105.5,345.6 1113.5,351.9 1121.5,356.8 1129.5,359.7 1137.5,366.5 1145.5,372.4 1153.5,380.3 1161.5,389.1 1169.5,399.5 1177.5,408.2 1185.5,415.8 1193.5,421.0 1201.5,426.0 1209.5,432.5 1217.5,438.2 1225.5,443.1 1233.5,447.0 1241.5,451.9 1249.5,458.1 1257.5,461.6 1265.5,467.5 1273.5,473.4 1281.5,477.3 1289.5,482.2 1297.5,483.7 1305.5,483.5 1313.5,480.2 1321.5,474.4 1329.5,464.6 1337.5,455.8 1345.5,447.0 1353.5,438.2 1361.5,427.4 1369.5,415.6 1377.5,404.4 1385.5,394.6 1393.5,384.4 1401.5,374.1 1409.5,362.9 1417.5,352.6 1425.5,340.7 1433.5,329.9 1441.5,318.7 1449.5,309.5 1457.5,303.5 1465.5,299.8 1473.5,297.4" fill="none" stroke="#3cb371" stroke-width="1" shape-rendering="crispEdges" />
<polyline points="-6.5,710.5 1.5,700.5 9.5,690.5 17.5,680.5 25.5,670.5 33.5,660.5 41.5,650.5 49.5,640.5 57.5,630.5 65.5,615.5 73.5,600.5 81.5,585.5 89.5,562.5 97.5,554.5 105.5,541.8 113.5,529.1 121.5,518.9 129.5,518.5 137.5,518.0 145.5,517.4 153.5,514.5 161.5,513.9 169.5,519.3 177.5,524.8 185.5,524.8 193.5,521.3 201.5,516.8 209.5,513.0 217.5,509.4 225.5,503.7 233.5,498.6 241.5,496.6 249.5,495.0 257.5,490.1 265.5,490.9 273.5,490.9 281.5,481.0 289.5,470.4 297.5,459.7 305.5,449.9 313.5,440.8 321.5,430.2 329.5,430.2 337.5,433.8 345.5,434.9 353.5,434.5 361.5,435.9 369.5,435.3 377.5,434.9 385.5,434.9 393.5,434.0 401.5,433.8 409.5,436.0 417.5,431.9 425.5,432.9 433.5,432.9 441.5,434.9 449.5,432.9 457.5,431.0 465.5,429.7 473.5,412.9 481.5,405.5 489.5,396.5 497.5,381.0 505.5,370.2 513.5,367.9 521.5,371.8 529.5,371.8 537.5,370.6 545.5,368.2 553.5,366.7 561.5,364.7 569.5,365.9 577.5,365.9 585.5,365.9 593.5,363.4 601.5,352.0 609.5,349.7 617.5,344.8 625.5,339.9 633.5,331.5 641.5,326.0 649.5,327.2 657.5,332.5 665.5,335.5 673.5,339.7 681.5,343.6 689.5,342.9 697.5,340.7 705.5,334.5 713.5,317.8 721.5,303.2 729.5,290.5 737.5,276.8 745.5,261.1 753.5,241.5 761.5,225.9 769.5,214.4 777.5,204.7 785.5,199.8 793.5,193.8 801.5,192.0 809.5,199.0 817.5,210.8 825.5,220.9 833.5,234.6 841.5,257.1 849.5,271.7 857.5,279.6 865.5,287.4 873.5,294.8 881.5,293.2 889.5,289.3 897.5,283.5 905.5,284.1 913.5,283.1 921.5,281.5 929.5,279.2 937.5,274.7 945.5,273.7 953.5,275.3 961.5,277.6 969.5,283.5 977.5,295.2 985.5,305.0 993.5,312.8 1001.5,318.7 1009.5,324.8 1017.5,332.8 1025.5,358.7 1033.5,386.2 1041.5,405.7 1049.5,422.4 1057.5,436.5 1065.5,447.8 1073.5,463.5 1081.5,468.9 1089.5,469.9 1097.5,459.0 1105.5,455.5 1113.5,453.6 1121.5,447.8 1129.5,444.7 1137.5,447.3 1145.5,451.7 1153.5,459.0 1161.5,472.4 1169.5,490.0 1177.5,505.6 1185.5,523.2 1193.5,538.5 1201.5,549.1 1209.5,559.9 1217.5,567.5 1225.5,573.5 1233.5,578.5 1241.5,582.5 1249.5,584.5 1257.5,582.5 1265.5,578.5 1273.5,572.5 1281.5,565.3 1289.5,553.6 1297.5,549.6 1305.5,552.6 1313.5,561.4 1321.5,568.0 1329.5,572.5 1337.5,575.5 1345.5,570.5 1353.5,566.0 1361.5,567.5 1369.5,561.4 1377.5,556.5 1385.5,550.6 1393.5,533.0 1401.5,517.4 1409.5,504.7 1417.5,497.8 1425.5,476.5 1433.5,455.0 1441.5,443.2 1449.5,421.7 1457.5,396.3 1465.5,383.6 1473.5,375.8" fill="none" stroke="#3cb371" stroke-width="1" shape-rendering="crispEdges" />
<rect x="0" y="263" width="1652" height="1" fill="#ff4500" shape-rendering="crispEdges"/>
<rect x="0" y="296" width="1652" height="1" fill="#ff0000" shape-rendering="crispEdges"/>
<rect x="0" y="322" width="1652" height="1" fill="#32cd32" shape-rendering="crispEdges"/>
<rect x="0" y="366" width="1652" height="1" fill="#0000ff" shape-rendering="crispEdges"/>
<rect x="0" y="400" width="1652" height="1" fill="#0000ff" shape-rendering="crispEdges"/>
<g shape-rendering="crispEdges">
<rect x="1" y="482" width="1" height="18" fill="#000"/>
<rect x="-1" y="492" width="5" height="4" fill="#000"/><rect x="0" y="493" width="3" height="2" fill="#fff"/>
<rect x="9" y="479" width="1" height="34" fill="#000"/>
<rect x="7" y="492" width="5" height="1" fill="#000"/>
<rect x="17" y="476" width="1" height="37" fill="#000"/>
<rect x="15" y="483" width="5" height="9" fill="#000"/><rect x="16" y="484" width="3" height="7" fill="#fff"/>
<rect x="25" y="474" width="1" height="36" fill="#000"/>
<rect x="23" y="482" width="5" height="25" fill="#000"/>
<rect x="33" y="489" width="1" height="36" fill="#000"/>
<rect x="31" y="505" width="5" height="3" fill="#000"/><rect x="32" y="506" width="3" height="1" fill="#fff"/>
<rect x="41" y="490" width="1" height="15" fill="#000"/>
<rect x="39" y="496" width="5" height="8" fill="#000"/><rect x="40" y="497" width="3" height="6" fill="#fff"/>
<rect x="49" y="480" width="1" height="31" fill="#000"/>
<rect x="47" y="481" width="5" height="15" fill="#000"/><rect x="48" y="482" width="3" height="13" fill="#fff"/>
<rect x="57" y="481" width="1" height="29" fill="#000"/>
<rect x="55" y="481" width="5" height="5" fill="#000"/>
<rect x="65" y="475" width="1" height="33" fill="#000"/>
<rect x="63" y="485" width="5" height="10" fill="#000"/>
<rect x="73" y="445" width="1" height="58" fill="#000"/>
<rect x="71" y="478" width="5" height="19" fill="#000"/><rect x="72" y="479" width="3" height="17" fill="#fff"/>
<rect x="81" y="444" width="1" height="37" fill="#000"/>
<rect x="79" y="446" width="5" height="32" fill="#000"/><rect x="80" y="447" width="3" height="30" fill="#fff"/>
<rect x="89" y="442" width="1" height="10" fill="#000"/>
<rect x="87" y="446" width="5" height="2" fill="#000"/>
<rect x="97" y="447" width="1" height="17" fill="#000"/>
<rect x="95" y="447" width="5" height="13" fill="#000"/>
<rect x="105" y="449" width="1" height="13" fill="#000"/>
<rect x="103" y="458" width="5" height="2" fill="#000"/>
<rect x="113" y="426" width="1" height="35" fill="#000"/>
<rect x="111" y="430" width="5" height="29" fill="#000"/><rect x="112" y="431" width="3" height="27" fill="#fff"/>
<rect x="121" y="421" width="1" height="60" fill="#000"/>
<rect x="119" y="430" width="5" height="37" fill="#000"/>
<rect x="129" y="445" width="1" height="27" fill="#000"/>
<rect x="127" y="467" width="5" height="3" fill="#000"/>
<rect x="137" y="452" width="1" height="20" fill="#000"/>
<rect x="135" y="457" width="5" height="12" fill="#000"/><rect x="136" y="458" width="3" height="10" fill="#fff"/>
<rect x="145" y="451" width="1" height="22" fill="#000"/>
<rect x="143" y="457" width="5" height="1" fill="#000"/>
<rect x="153" y="454" width="1" height="24" fill="#000"/>
<rect x="151" y="457" width="5" height="9" fill="#000"/>
<rect x="161" y="448" width="1" height="40" fill="#000"/>
<rect x="159" y="451" width="5" height="15" fill="#000"/><rect x="160" y="452" width="3" height="13" fill="#fff"/>
<rect x="169" y="373" width="1" height="97" fill="#000"/>
<rect x="167" y="391" width="5" height="58" fill="#000"/><rect x="168" y="392" width="3" height="56" fill="#fff"/>
<rect x="177" y="382" width="1" height="31" fill="#000"/>
<rect x="175" y="386" width="5" height="6" fill="#000"/><rect x="176" y="387" width="3" height="4" fill="#fff"/>
<rect x="185" y="376" width="1" height="21" fill="#000"/>
<rect x="183" y="377" width="5" height="9" fill="#000"/><rect x="184" y="378" width="3" height="7" fill="#fff"/>
<rect x="193" y="366" width="1" height="24" fill="#000"/>
<rect x="191" y="377" width="5" height="13" fill="#000"/>
<rect x="201" y="384" width="1" height="34" fill="#000"/>
<rect x="199" y="388" width="5" height="19" fill="#000"/>
<rect x="209" y="382" width="1" height="49" fill="#000"/>
<rect x="207" y="389" width="5" height="18" fill="#000"/><rect x="208" y="390" width="3" height="16" fill="#fff"/>
<rect x="217" y="344" width="1" height="56" fill="#000"/>
<rect x="215" y="374" width="5" height="14" fill="#000"/><rect x="216" y="375" width="3" height="12" fill="#fff"/>
<rect x="225" y="361" width="1" height="37" fill="#000"/>
<rect x="223" y="361" width="5" height="12" fill="#000"/><rect x="224" y="362" width="3" height="10" fill="#fff"/>
<rect x="233" y="356" width="1" height="32" fill="#000"/>
<rect x="231" y="361" width="5" height="16" fill="#000"/>
<rect x="241" y="364" width="1" height="16" fill="#000"/>
<rect x="239" y="376" width="5" height="1" fill="#000"/>
<rect x="249" y="364" width="1" height="17" fill="#000"/>
<rect x="247" y="364" width="5" height="13" fill="#000"/><rect x="248" y="365" width="3" height="11" fill="#fff"/>
<rect x="257" y="348" width="1" height="56" fill="#000"/>
<rect x="255" y="364" width="5" height="39" fill="#000"/>
<rect x="265" y="309" width="1" height="108" fill="#000"/>
<rect x="263" y="316" width="5" height="86" fill="#000"/><rect x="264" y="317" width="3" height="84" fill="#fff"/>
<rect x="273" y="313" width="1" height="25" fill="#000"/>
<rect x="271" y="316" width="5" height="14" fill="#000"/>
<rect x="281" y="330" width="1" height="18" fill="#000"/>
<rect x="279" y="335" width="5" height="11" fill="#000"/>
<rect x="289" y="335" width="1" height="44" fill="#000"/>
<rect x="287" y="345" width="5" height="29" fill="#000"/>
<rect x="297" y="362" width="1" height="17" fill="#000"/>
<rect x="295" y="366" width="5" height="5" fill="#000"/><rect x="296" y="367" width="3" height="3" fill="#fff"/>
<rect x="305" y="336" width="1" height="33" fill="#000"/>
<rect x="303" y="359" width="5" height="8" fill="#000"/><rect x="304" y="360" width="3" height="6" fill="#fff"/>
<rect x="313" y="357" width="1" height="103" fill="#000"/>
<rect x="311" y="358" width="5" height="83" fill="#000"/>
<rect x="321" y="390" width="1" height="62" fill="#000"/>
<rect x="319" y="392" width="5" height="47" fill="#000"/><rect x="320" y="393" width="3" height="45" fill="#fff"/>
<rect x="329" y="390" width="1" height="24" fill="#000"/>
<rect x="327" y="392" width="5" height="4" fill="#000"/>
<rect x="337" y="392" width="1" height="28" fill="#000"/>
<rect x="335" y="394" width="5" height="25" fill="#000"/>
<rect x="345" y="387" width="1" height="38" fill="#000"/>
<rect x="343" y="387" width="5" height="31" fill="#000"/><rect x="344" y="388" width="3" height="29" fill="#fff"/>
<rect x="353" y="354" width="1" height="39" fill="#000"/>
<rect x="351" y="378" width="5" height="9" fill="#000"/><rect x="352" y="379" width="3" height="7" fill="#fff"/>
<rect x="361" y="300" width="1" height="100" fill="#000"/>
<rect x="359" y="305" width="5" height="73" fill="#000"/><rect x="360" y="306" width="3" height="71" fill="#fff"/>
<rect x="369" y="304" width="1" height="42" fill="#000"/>
<rect x="367" y="305" width="5" height="23" fill="#000"/>
<rect x="377" y="324" width="1" height="19" fill="#000"/>
<rect x="375" y="328" width="5" height="7" fill="#000"/>
<rect x="385" y="321" width="1" height="18" fill="#000"/>
<rect x="383" y="331" width="5" height="3" fill="#000"/><rect x="384" y="332" width="3" height="1" fill="#fff"/>
<rect x="393" y="320" width="1" height="24" fill="#000"/>
<rect x="391" y="327" width="5" height="4" fill="#000"/><rect x="392" y="328" width="3" height="2" fill="#fff"/>
<rect x="401" y="303" width="1" height="35" fill="#000"/>
<rect x="399" y="320" width="5" height="7" fill="#000"/><rect x="400" y="321" width="3" height="5" fill="#fff"/>
<rect x="409" y="287" width="1" height="46" fill="#000"/>
<rect x="407" y="289" width="5" height="31" fill="#000"/><rect x="408" y="290" width="3" height="29" fill="#fff"/>
<rect x="417" y="247" width="1" height="54" fill="#000"/>
<rect x="415" y="290" width="5" height="6" fill="#000"/>
<rect x="425" y="296" width="1" height="16" fill="#000"/>
<rect x="423" y="296" width="5" height="8" fill="#000"/>
<rect x="433" y="303" width="1" height="29" fill="#000"/>
<rect x="431" y="303" width="5" height="22" fill="#000"/>
<rect x="441" y="324" width="1" height="57" fill="#000"/>
<rect x="439" y="324" width="5" height="50" fill="#000"/>
<rect x="449" y="313" width="1" height="73" fill="#000"/>
<rect x="447" y="326" width="5" height="47" fill="#000"/><rect x="448" y="327" width="3" height="45" fill="#fff"/>
<rect x="457" y="297" width="1" height="55" fill="#000"/>
<rect x="455" y="325" width="5" height="13" fill="#000"/>
<rect x="465" y="320" width="1" height="25" fill="#000"/>
<rect x="463" y="338" width="5" height="2" fill="#000"/>
<rect x="473" y="325" width="1" height="15" fill="#000"/>
<rect x="471" y="332" width="5" height="8" fill="#000"/><rect x="472" y="333" width="3" height="6" fill="#fff"/>
<rect x="481" y="305" width="1" height="32" fill="#000"/>
<rect x="479" y="311" width="5" height="20" fill="#000"/><rect x="480" y="312" width="3" height="18" fill="#fff"/>
<rect x="489" y="311" width="1" height="21" fill="#000"/>
<rect x="487" y="311" width="5" height="11" fill="#000"/>
<rect x="497" y="299" width="1" height="39" fill="#000"/>
<rect x="495" y="308" width="5" height="15" fill="#000"/><rect x="496" y="309" width="3" height="13" fill="#fff"/>
<rect x="505" y="279" width="1" height="57" fill="#000"/>
<rect x="503" y="280" width="5" height="27" fill="#000"/><rect x="504" y="281" width="3" height="25" fill="#fff"/>
<rect x="513" y="250" width="1" height="46" fill="#000"/>
<rect x="511" y="250" width="5" height="31" fill="#000"/><rect x="512" y="251" width="3" height="29" fill="#fff"/>
<rect x="521" y="255" width="1" height="22" fill="#000"/>
<rect x="519" y="257" width="5" height="20" fill="#000"/><rect x="520" y="258" width="3" height="18" fill="#fff"/>
<rect x="529" y="249" width="1" height="21" fill="#000"/>
<rect x="527" y="257" width="5" height="9" fill="#000"/>
<rect x="537" y="253" width="1" height="21" fill="#000"/>
<rect x="535" y="264" width="5" height="3" fill="#000"/><rect x="536" y="265" width="3" height="1" fill="#fff"/>
<rect x="545" y="241" width="1" height="38" fill="#000"/>
<rect x="543" y="264" width="5" height="5" fill="#000"/>
<rect x="553" y="258" width="1" height="74" fill="#000"/>
<rect x="551" y="268" width="5" height="28" fill="#000"/>
<rect x="561" y="278" width="1" height="27" fill="#000"/>
<rect x="559" y="283" width="5" height="12" fill="#000"/><rect x="560" y="284" width="3" height="10" fill="#fff"/>
<rect x="569" y="270" width="1" height="16" fill="#000"/>
<rect x="567" y="271" width="5" height="11" fill="#000"/><rect x="568" y="272" width="3" height="9" fill="#fff"/>
<rect x="577" y="249" width="1" height="26" fill="#000"/>
<rect x="575" y="255" width="5" height="17" fill="#000"/><rect x="576" y="256" width="3" height="15" fill="#fff"/>
<rect x="585" y="246" width="1" height="26" fill="#000"/>
<rect x="583" y="248" width="5" height="7" fill="#000"/><rect x="584" y="249" width="3" height="5" fill="#fff"/>
<rect x="593" y="221" width="1" height="45" fill="#000"/>
<rect x="591" y="248" width="5" height="17" fill="#000"/>
<rect x="601" y="239" width="1" height="55" fill="#000"/>
<rect x="599" y="240" width="5" height="24" fill="#000"/><rect x="600" y="241" width="3" height="22" fill="#fff"/>
<rect x="609" y="210" width="1" height="30" fill="#000"/>
<rect x="607" y="211" width="5" height="29" fill="#000"/><rect x="608" y="212" width="3" height="27" fill="#fff"/>
<rect x="617" y="199" width="1" height="16" fill="#000"/>
<rect x="615" y="204" width="5" height="8" fill="#000"/><rect x="616" y="205" width="3" height="6" fill="#fff"/>
<rect x="625" y="188" width="1" height="23" fill="#000"/>
<rect x="623" y="189" width="5" height="15" fill="#000"/><rect x="624" y="190" width="3" height="13" fill="#fff"/>
<rect x="633" y="188" width="1" height="26" fill="#000"/>
<rect x="631" y="189" width="5" height="19" fill="#000"/>
<rect x="641" y="194" width="1" height="26" fill="#000"/>
<rect x="639" y="204" width="5" height="4" fill="#000"/><rect x="640" y="205" width="3" height="2" fill="#fff"/>
<rect x="649" y="124" width="1" height="80" fill="#000"/>
<rect x="647" y="136" width="5" height="67" fill="#000"/><rect x="648" y="137" width="3" height="65" fill="#fff"/>
<rect x="657" y="102" width="1" height="38" fill="#000"/>
<rect x="655" y="104" width="5" height="33" fill="#000"/><rect x="656" y="105" width="3" height="31" fill="#fff"/>
<rect x="665" y="102" width="1" height="23" fill="#000"/>
<rect x="663" y="103" width="5" height="9" fill="#000"/>
<rect x="673" y="95" width="1" height="19" fill="#000"/>
<rect x="671" y="106" width="5" height="6" fill="#000"/><rect x="672" y="107" width="3" height="4" fill="#fff"/>
<rect x="681" y="78" width="1" height="34" fill="#000"/>
<rect x="679" y="80" width="5" height="25" fill="#000"/><rect x="680" y="81" width="3" height="23" fill="#fff"/>
<rect x="689" y="57" width="1" height="32" fill="#000"/>
<rect x="687" y="80" width="5" height="3" fill="#000"/>
<rect x="697" y="58" width="1" height="45" fill="#000"/>
<rect x="695" y="76" width="5" height="7" fill="#000"/><rect x="696" y="77" width="3" height="5" fill="#fff"/>
<rect x="705" y="68" width="1" height="41" fill="#000"/>
<rect x="703" y="75" width="5" height="19" fill="#000"/>
<rect x="713" y="93" width="1" height="26" fill="#000"/>
<rect x="711" y="93" width="5" height="10" fill="#000"/>
<rect x="721" y="82" width="1" height="31" fill="#000"/>
<rect x="719" y="85" width="5" height="19" fill="#000"/><rect x="720" y="86" width="3" height="17" fill="#fff"/>
<rect x="729" y="72" width="1" height="27" fill="#000"/>
<rect x="727" y="85" width="5" height="4" fill="#000"/>
<rect x="737" y="65" width="1" height="31" fill="#000"/>
<rect x="735" y="87" width="5" height="9" fill="#000"/>
<rect x="745" y="85" width="1" height="68" fill="#000"/>
<rect x="743" y="96" width="5" height="45" fill="#000"/>
<rect x="753" y="133" width="1" height="46" fill="#000"/>
<rect x="751" y="141" width="5" height="9" fill="#000"/>
<rect x="761" y="149" width="1" height="15" fill="#000"/>
<rect x="759" y="153" width="5" height="1" fill="#000"/>
<rect x="769" y="142" width="1" height="24" fill="#000"/>
<rect x="767" y="147" width="5" height="6" fill="#000"/><rect x="768" y="148" width="3" height="4" fill="#fff"/>
<rect x="777" y="137" width="1" height="21" fill="#000"/>
<rect x="775" y="140" width="5" height="6" fill="#000"/><rect x="776" y="141" width="3" height="4" fill="#fff"/>
<rect x="785" y="132" width="1" height="43" fill="#000"/>
<rect x="783" y="139" width="5" height="30" fill="#000"/>
<rect x="793" y="163" width="1" height="36" fill="#000"/>
<rect x="791" y="168" width="5" height="17" fill="#000"/>
<rect x="801" y="174" width="1" height="18" fill="#000"/>
<rect x="799" y="184" width="5" height="6" fill="#000"/>
<rect x="809" y="186" width="1" height="9" fill="#000"/>
<rect x="807" y="186" width="5" height="4" fill="#000"/><rect x="808" y="187" width="3" height="2" fill="#fff"/>
<rect x="817" y="168" width="1" height="51" fill="#000"/>
<rect x="815" y="184" width="5" height="27" fill="#000"/>
<rect x="825" y="183" width="1" height="28" fill="#000"/>
<rect x="823" y="190" width="5" height="19" fill="#000"/><rect x="824" y="191" width="3" height="17" fill="#fff"/>
<rect x="833" y="179" width="1" height="65" fill="#000"/>
<rect x="831" y="190" width="5" height="53" fill="#000"/>
<rect x="841" y="241" width="1" height="39" fill="#000"/>
<rect x="839" y="241" width="5" height="28" fill="#000"/>
<rect x="849" y="241" width="1" height="39" fill="#000"/>
<rect x="847" y="249" width="5" height="19" fill="#000"/><rect x="848" y="250" width="3" height="17" fill="#fff"/>
<rect x="857" y="245" width="1" height="21" fill="#000"/>
<rect x="855" y="246" width="5" height="3" fill="#000"/><rect x="856" y="247" width="3" height="1" fill="#fff"/>
<rect x="865" y="239" width="1" height="23" fill="#000"/>
<rect x="863" y="245" width="5" height="2" fill="#000"/>
<rect x="873" y="223" width="1" height="38" fill="#000"/>
<rect x="871" y="247" width="5" height="13" fill="#000"/>
<rect x="881" y="189" width="1" height="73" fill="#000"/>
<rect x="879" y="207" width="5" height="53" fill="#000"/><rect x="880" y="208" width="3" height="51" fill="#fff"/>
<rect x="889" y="184" width="1" height="36" fill="#000"/>
<rect x="887" y="207" width="5" height="4" fill="#000"/>
<rect x="897" y="201" width="1" height="19" fill="#000"/>
<rect x="895" y="210" width="5" height="4" fill="#000"/>
<rect x="905" y="210" width="1" height="28" fill="#000"/>
<rect x="903" y="213" width="5" height="23" fill="#000"/>
<rect x="913" y="200" width="1" height="35" fill="#000"/>
<rect x="911" y="213" width="5" height="21" fill="#000"/><rect x="912" y="214" width="3" height="19" fill="#fff"/>
<rect x="921" y="203" width="1" height="19" fill="#000"/>
<rect x="919" y="212" width="5" height="1" fill="#000"/>
<rect x="929" y="198" width="1" height="43" fill="#000"/>
<rect x="927" y="212" width="5" height="25" fill="#000"/>
<rect x="937" y="167" width="1" height="80" fill="#000"/>
<rect x="935" y="175" width="5" height="61" fill="#000"/><rect x="936" y="176" width="3" height="59" fill="#fff"/>
<rect x="945" y="169" width="1" height="62" fill="#000"/>
<rect x="943" y="175" width="5" height="56" fill="#000"/>
<rect x="953" y="225" width="1" height="38" fill="#000"/>
<rect x="951" y="229" width="5" height="22" fill="#000"/>
<rect x="961" y="243" width="1" height="30" fill="#000"/>
<rect x="959" y="249" width="5" height="3" fill="#000"/>
<rect x="969" y="250" width="1" height="34" fill="#000"/>
<rect x="967" y="252" width="5" height="24" fill="#000"/>
<rect x="977" y="276" width="1" height="31" fill="#000"/>
<rect x="975" y="276" width="5" height="25" fill="#000"/>
<rect x="985" y="275" width="1" height="40" fill="#000"/>
<rect x="983" y="300" width="5" height="4" fill="#000"/>
<rect x="993" y="286" width="1" height="23" fill="#000"/>
<rect x="991" y="302" width="5" height="2" fill="#000"/>
<rect x="1001" y="302" width="1" height="13" fill="#000"/>
<rect x="999" y="302" width="5" height="9" fill="#000"/><rect x="1000" y="303" width="3" height="7" fill="#fff"/>
<rect x="1009" y="290" width="1" height="21" fill="#000"/>
<rect x="1007" y="302" width="5" height="2" fill="#000"/>
<rect x="1017" y="298" width="1" height="33" fill="#000"/>
<rect x="1015" y="302" width="5" height="18" fill="#000"/>
<rect x="1025" y="302" width="1" height="89" fill="#000"/>
<rect x="1023" y="319" width="5" height="69" fill="#000"/>
<rect x="1033" y="379" width="1" height="65" fill="#000"/>
<rect x="1031" y="388" width="5" height="30" fill="#000"/>
<rect x="1041" y="393" width="1" height="55" fill="#000"/>
<rect x="1039" y="394" width="5" height="24" fill="#000"/><rect x="1040" y="395" width="3" height="22" fill="#fff"/>
<rect x="1049" y="381" width="1" height="17" fill="#000"/>
<rect x="1047" y="387" width="5" height="8" fill="#000"/><rect x="1048" y="388" width="3" height="6" fill="#fff"/>
<rect x="1057" y="386" width="1" height="29" fill="#000"/>
<rect x="1055" y="387" width="5" height="16" fill="#000"/>
<rect x="1065" y="389" width="1" height="21" fill="#000"/>
<rect x="1063" y="393" width="5" height="9" fill="#000"/><rect x="1064" y="394" width="3" height="7" fill="#fff"/>
<rect x="1073" y="377" width="1" height="67" fill="#000"/>
<rect x="1071" y="394" width="5" height="47" fill="#000"/>
<rect x="1081" y="380" width="1" height="74" fill="#000"/>
<rect x="1079" y="392" width="5" height="48" fill="#000"/><rect x="1080" y="393" width="3" height="46" fill="#fff"/>
<rect x="1089" y="349" width="1" height="52" fill="#000"/>
<rect x="1087" y="350" width="5" height="42" fill="#000"/><rect x="1088" y="351" width="3" height="40" fill="#fff"/>
<rect x="1097" y="349" width="1" height="28" fill="#000"/>
<rect x="1095" y="350" width="5" height="11" fill="#000"/>
<rect x="1105" y="346" width="1" height="19" fill="#000"/>
<rect x="1103" y="360" width="5" height="2" fill="#000"/>
<rect x="1113" y="354" width="1" height="22" fill="#000"/>
<rect x="1111" y="360" width="5" height="10" fill="#000"/>
<rect x="1121" y="343" width="1" height="38" fill="#000"/>
<rect x="1119" y="358" width="5" height="12" fill="#000"/><rect x="1120" y="359" width="3" height="10" fill="#fff"/>
<rect x="1129" y="346" width="1" height="38" fill="#000"/>
<rect x="1127" y="356" width="5" height="5" fill="#000"/>
<rect x="1137" y="341" width="1" height="84" fill="#000"/>
<rect x="1135" y="360" width="5" height="54" fill="#000"/>
<rect x="1145" y="413" width="1" height="31" fill="#000"/>
<rect x="1143" y="414" width="5" height="1" fill="#000"/>
<rect x="1153" y="414" width="1" height="41" fill="#000"/>
<rect x="1151" y="414" width="5" height="40" fill="#000"/>
<rect x="1161" y="446" width="1" height="39" fill="#000"/>
<rect x="1159" y="453" width="5" height="30" fill="#000"/>
<rect x="1169" y="457" width="1" height="74" fill="#000"/>
<rect x="1167" y="483" width="5" height="33" fill="#000"/>
<rect x="1177" y="490" width="1" height="62" fill="#000"/>
<rect x="1175" y="512" width="5" height="4" fill="#000"/><rect x="1176" y="513" width="3" height="2" fill="#fff"/>
<rect x="1185" y="493" width="1" height="49" fill="#000"/>
<rect x="1183" y="512" width="5" height="20" fill="#000"/>
<rect x="1193" y="513" width="1" height="19" fill="#000"/>
<rect x="1191" y="515" width="5" height="17" fill="#000"/><rect x="1192" y="516" width="3" height="15" fill="#fff"/>
<rect x="1201" y="494" width="1" height="32" fill="#000"/>
<rect x="1199" y="499" width="5" height="16" fill="#000"/><rect x="1200" y="500" width="3" height="14" fill="#fff"/>
<rect x="1209" y="479" width="1" height="44" fill="#000"/>
<rect x="1207" y="500" width="5" height="16" fill="#000"/>
<rect x="1217" y="506" width="1" height="38" fill="#000"/>
<rect x="1215" y="512" width="5" height="4" fill="#000"/><rect x="1216" y="513" width="3" height="2" fill="#fff"/>
<rect x="1225" y="459" width="1" height="74" fill="#000"/>
<rect x="1223" y="481" width="5" height="31" fill="#000"/><rect x="1224" y="482" width="3" height="29" fill="#fff"/>
<rect x="1233" y="457" width="1" height="76" fill="#000"/>
<rect x="1231" y="479" width="5" height="39" fill="#000"/>
<rect x="1241" y="495" width="1" height="21" fill="#000"/>
<rect x="1239" y="496" width="5" height="8" fill="#000"/><rect x="1240" y="497" width="3" height="6" fill="#fff"/>
<rect x="1249" y="481" width="1" height="20" fill="#000"/>
<rect x="1247" y="487" width="5" height="9" fill="#000"/><rect x="1248" y="488" width="3" height="7" fill="#fff"/>
<rect x="1257" y="454" width="1" height="34" fill="#000"/>
<rect x="1255" y="455" width="5" height="31" fill="#000"/><rect x="1256" y="456" width="3" height="29" fill="#fff"/>
<rect x="1265" y="437" width="1" height="57" fill="#000"/>
<rect x="1263" y="454" width="5" height="40" fill="#000"/>
<rect x="1273" y="429" width="1" height="79" fill="#000"/>
<rect x="1271" y="476" width="5" height="18" fill="#000"/><rect x="1272" y="477" width="3" height="16" fill="#fff"/>
<rect x="1281" y="423" width="1" height="69" fill="#000"/>
<rect x="1279" y="426" width="5" height="50" fill="#000"/><rect x="1280" y="427" width="3" height="48" fill="#fff"/>
<rect x="1289" y="422" width="1" height="32" fill="#000"/>
<rect x="1287" y="426" width="5" height="17" fill="#000"/>
<rect x="1297" y="438" width="1" height="18" fill="#000"/>
<rect x="1295" y="441" width="5" height="7" fill="#000"/>
<rect x="1305" y="398" width="1" height="50" fill="#000"/>
<rect x="1303" y="400" width="5" height="48" fill="#000"/><rect x="1304" y="401" width="3" height="46" fill="#fff"/>
<rect x="1313" y="354" width="1" height="56" fill="#000"/>
<rect x="1311" y="380" width="5" height="20" fill="#000"/><rect x="1312" y="381" width="3" height="18" fill="#fff"/>
<rect x="1321" y="351" width="1" height="52" fill="#000"/>
<rect x="1319" y="366" width="5" height="13" fill="#000"/><rect x="1320" y="367" width="3" height="11" fill="#fff"/>
<rect x="1329" y="345" width="1" height="36" fill="#000"/>
<rect x="1327" y="350" width="5" height="16" fill="#000"/><rect x="1328" y="351" width="3" height="14" fill="#fff"/>
<rect x="1337" y="336" width="1" height="22" fill="#000"/>
<rect x="1335" y="341" width="5" height="9" fill="#000"/><rect x="1336" y="342" width="3" height="7" fill="#fff"/>
<rect x="1345" y="338" width="1" height="14" fill="#000"/>
<rect x="1343" y="341" width="5" height="11" fill="#000"/>
<rect x="1353" y="324" width="1" height="28" fill="#000"/>
<rect x="1351" y="328" width="5" height="24" fill="#000"/><rect x="1352" y="329" width="3" height="22" fill="#fff"/>
<rect x="1361" y="288" width="1" height="51" fill="#000"/>
<rect x="1359" y="292" width="5" height="36" fill="#000"/><rect x="1360" y="293" width="3" height="34" fill="#fff"/>
<rect x="1369" y="262" width="1" height="42" fill="#000"/>
<rect x="1367" y="289" width="5" height="3" fill="#000"/><rect x="1368" y="290" width="3" height="1" fill="#fff"/>
<rect x="1377" y="263" width="1" height="41" fill="#000"/>
<rect x="1375" y="265" width="5" height="24" fill="#000"/><rect x="1376" y="266" width="3" height="22" fill="#fff"/>
<rect x="1385" y="263" width="1" height="29" fill="#000"/>
<rect x="1383" y="266" width="5" height="25" fill="#000"/>
<rect x="1393" y="287" width="1" height="17" fill="#000"/>
<rect x="1391" y="290" width="5" height="2" fill="#000"/>
<rect x="1401" y="290" width="1" height="23" fill="#000"/>
<rect x="1399" y="290" width="5" height="10" fill="#000"/>
<rect x="1409" y="286" width="1" height="36" fill="#000"/>
<rect x="1407" y="292" width="5" height="7" fill="#000"/><rect x="1408" y="293" width="3" height="5" fill="#fff"/>
<rect x="1417" y="210" width="1" height="104" fill="#000"/>
<rect x="1415" y="234" width="5" height="53" fill="#000"/><rect x="1416" y="235" width="3" height="51" fill="#fff"/>
<rect x="1425" y="223" width="1" height="41" fill="#000"/>
<rect x="1423" y="233" width="5" height="28" fill="#000"/>
<rect x="1433" y="248" width="1" height="16" fill="#000"/>
<rect x="1431" y="248" width="5" height="12" fill="#000"/><rect x="1432" y="249" width="3" height="10" fill="#fff"/>
<rect x="1441" y="227" width="1" height="26" fill="#000"/>
<rect x="1439" y="235" width="5" height="14" fill="#000"/><rect x="1440" y="236" width="3" height="12" fill="#fff"/>
<rect x="1449" y="230" width="1" height="42" fill="#000"/>
<rect x="1447" y="234" width="5" height="36" fill="#000"/>
<rect x="1457" y="262" width="1" height="39" fill="#000"/>
<rect x="1455" y="269" width="5" height="13" fill="#000"/>
<rect x="1465" y="271" width="1" height="95" fill="#000"/>
<rect x="1463" y="281" width="5" height="53" fill="#000"/>
<rect x="1473" y="307" width="1" height="36" fill="#000"/>
<rect x="1471" y="334" width="5" height="2" fill="#000"/>
</g>
<rect x="1409" y="322" width="149" height="5" fill="#00ff00" shape-rendering="crispEdges"/>
</g>
<rect x="1647.5" y="261.5" width="4" height="4" fill="#fff" stroke="#ff4500" stroke-width="1" shape-rendering="crispEdges"/>
<rect x="1647.5" y="294.5" width="4" height="4" fill="#fff" stroke="#ff0000" stroke-width="1" shape-rendering="crispEdges"/>
<rect x="1647.5" y="320.5" width="4" height="4" fill="#fff" stroke="#32cd32" stroke-width="1" shape-rendering="crispEdges"/>
<rect x="1647.5" y="364.5" width="4" height="4" fill="#fff" stroke="#0000ff" stroke-width="1" shape-rendering="crispEdges"/>
<rect x="1647.5" y="398.5" width="4" height="4" fill="#fff" stroke="#0000ff" stroke-width="1" shape-rendering="crispEdges"/>
<rect x="1653" y="34" width="2" height="1" fill="#000" shape-rendering="crispEdges"/>
<text class="ax" transform="translate(1658 37.6) scale(0.906 1)" style="fill:#000" text-anchor="start">1.37660</text>
<rect x="1653" y="67" width="2" height="1" fill="#000" shape-rendering="crispEdges"/>
<text class="ax" transform="translate(1658 70.6) scale(0.906 1)" style="fill:#000" text-anchor="start">1.37400</text>
<rect x="1653" y="100" width="2" height="1" fill="#000" shape-rendering="crispEdges"/>
<text class="ax" transform="translate(1658 103.6) scale(0.906 1)" style="fill:#000" text-anchor="start">1.37135</text>
<rect x="1653" y="133" width="2" height="1" fill="#000" shape-rendering="crispEdges"/>
<text class="ax" transform="translate(1658 136.6) scale(0.906 1)" style="fill:#000" text-anchor="start">1.36875</text>
<rect x="1653" y="166" width="2" height="1" fill="#000" shape-rendering="crispEdges"/>
<text class="ax" transform="translate(1658 169.6) scale(0.906 1)" style="fill:#000" text-anchor="start">1.36615</text>
<rect x="1653" y="199" width="2" height="1" fill="#000" shape-rendering="crispEdges"/>
<text class="ax" transform="translate(1658 202.6) scale(0.906 1)" style="fill:#000" text-anchor="start">1.36355</text>
<rect x="1653" y="232" width="2" height="1" fill="#000" shape-rendering="crispEdges"/>
<text class="ax" transform="translate(1658 235.6) scale(0.906 1)" style="fill:#000" text-anchor="start">1.36095</text>
<rect x="1653" y="265" width="2" height="1" fill="#000" shape-rendering="crispEdges"/>
<text class="ax" transform="translate(1658 268.6) scale(0.906 1)" style="fill:#000" text-anchor="start">1.35835</text>
<rect x="1653" y="298" width="2" height="1" fill="#000" shape-rendering="crispEdges"/>
<text class="ax" transform="translate(1658 301.6) scale(0.906 1)" style="fill:#000" text-anchor="start">1.35575</text>
<rect x="1653" y="331" width="2" height="1" fill="#000" shape-rendering="crispEdges"/>
<text class="ax" transform="translate(1658 334.6) scale(0.906 1)" style="fill:#000" text-anchor="start">1.35315</text>
<rect x="1653" y="364" width="2" height="1" fill="#000" shape-rendering="crispEdges"/>
<rect x="1653" y="397" width="2" height="1" fill="#000" shape-rendering="crispEdges"/>
<rect x="1653" y="430" width="2" height="1" fill="#000" shape-rendering="crispEdges"/>
<text class="ax" transform="translate(1658 433.6) scale(0.906 1)" style="fill:#000" text-anchor="start">1.34530</text>
<rect x="1653" y="463" width="2" height="1" fill="#000" shape-rendering="crispEdges"/>
<text class="ax" transform="translate(1658 466.6) scale(0.906 1)" style="fill:#000" text-anchor="start">1.34270</text>
<rect x="1653" y="496" width="2" height="1" fill="#000" shape-rendering="crispEdges"/>
<text class="ax" transform="translate(1658 499.6) scale(0.906 1)" style="fill:#000" text-anchor="start">1.34010</text>
<rect x="1653" y="529" width="2" height="1" fill="#000" shape-rendering="crispEdges"/>
<text class="ax" transform="translate(1658 532.6) scale(0.906 1)" style="fill:#000" text-anchor="start">1.33750</text>
<rect x="1653" y="562" width="2" height="1" fill="#000" shape-rendering="crispEdges"/>
<text class="ax" transform="translate(1658 565.6) scale(0.906 1)" style="fill:#000" text-anchor="start">1.33490</text>
<rect x="1654" y="257" width="41" height="11" fill="#ff4500" shape-rendering="crispEdges"/>
<text class="ax" transform="translate(1658 266) scale(0.906 1)" style="fill:#fff" text-anchor="start">1.35851</text>
<rect x="1654" y="290" width="41" height="11" fill="#ff0000" shape-rendering="crispEdges"/>
<text class="ax" transform="translate(1658 299) scale(0.906 1)" style="fill:#fff" text-anchor="start">1.35591</text>
<rect x="1654" y="316" width="41" height="11" fill="#32cd32" shape-rendering="crispEdges"/>
<text class="ax" transform="translate(1658 325) scale(0.906 1)" style="fill:#fff" text-anchor="start">1.35386</text>
<rect x="1654" y="360" width="41" height="11" fill="#0000ff" shape-rendering="crispEdges"/>
<text class="ax" transform="translate(1658 369) scale(0.906 1)" style="fill:#fff" text-anchor="start">1.35039</text>
<rect x="1654" y="394" width="41" height="11" fill="#0000ff" shape-rendering="crispEdges"/>
<text class="ax" transform="translate(1658 403) scale(0.906 1)" style="fill:#fff" text-anchor="start">1.34771</text>
<rect x="1654" y="331" width="41" height="11" fill="#000000" shape-rendering="crispEdges"/>
<text class="ax" transform="translate(1658 340) scale(0.906 1)" style="fill:#fff" text-anchor="start">1.35276</text>
<path d="M0 37.5 L0 41 L3.5 41 Z" fill="#000"/>
<text class="ax" transform="translate(8 42.2) scale(0.918 1)" style="fill:#000" text-anchor="start">GBPUSD-,H4</text>
<text class="ax" transform="translate(71 42.2) scale(0.906 1)" style="fill:#000" text-anchor="start">1.35291 1.35502 1.35230 1.35276</text>
<path d="M1463 31 L1473 31 L1468 36 Z" fill="#c0c0c0"/>
<g clip-path="url(#c2)">
<g shape-rendering="crispEdges" fill="#c0c0c0">
<rect x="1" y="584" width="1" height="96"/>
<rect x="9" y="585" width="1" height="95"/>
<rect x="17" y="585" width="1" height="95"/>
<rect x="25" y="591" width="1" height="89"/>
<rect x="33" y="594" width="1" height="86"/>
<rect x="41" y="598" width="1" height="82"/>
<rect x="49" y="599" width="1" height="81"/>
<rect x="57" y="602" width="1" height="78"/>
<rect x="65" y="606" width="1" height="74"/>
<rect x="73" y="608" width="1" height="72"/>
<rect x="81" y="606" width="1" height="74"/>
<rect x="89" y="605" width="1" height="75"/>
<rect x="97" y="607" width="1" height="73"/>
<rect x="105" y="609" width="1" height="71"/>
<rect x="113" y="608" width="1" height="72"/>
<rect x="121" y="613" width="1" height="67"/>
<rect x="129" y="618" width="1" height="62"/>
<rect x="137" y="621" width="1" height="59"/>
<rect x="145" y="623" width="1" height="57"/>
<rect x="153" y="628" width="1" height="52"/>
<rect x="161" y="629" width="1" height="51"/>
<rect x="169" y="623" width="1" height="57"/>
<rect x="177" y="618" width="1" height="62"/>
<rect x="185" y="614" width="1" height="66"/>
<rect x="193" y="612" width="1" height="68"/>
<rect x="201" y="615" width="1" height="65"/>
<rect x="209" y="615" width="1" height="65"/>
<rect x="217" y="614" width="1" height="66"/>
<rect x="225" y="612" width="1" height="68"/>
<rect x="233" y="614" width="1" height="66"/>
<rect x="241" y="615" width="1" height="65"/>
<rect x="249" y="615" width="1" height="65"/>
<rect x="257" y="622" width="1" height="58"/>
<rect x="265" y="614" width="1" height="66"/>
<rect x="273" y="613" width="1" height="67"/>
<rect x="281" y="614" width="1" height="66"/>
<rect x="289" y="620" width="1" height="60"/>
<rect x="297" y="624" width="1" height="56"/>
<rect x="305" y="627" width="1" height="53"/>
<rect x="313" y="641" width="1" height="39"/>
<rect x="321" y="646" width="1" height="34"/>
<rect x="329" y="650" width="1" height="30"/>
<rect x="337" y="657" width="1" height="23"/>
<rect x="345" y="659" width="1" height="21"/>
<rect x="353" y="659" width="1" height="21"/>
<rect x="361" y="649" width="1" height="31"/>
<rect x="369" y="645" width="1" height="35"/>
<rect x="377" y="643" width="1" height="37"/>
<rect x="385" y="642" width="1" height="38"/>
<rect x="393" y="640" width="1" height="40"/>
<rect x="401" y="639" width="1" height="41"/>
<rect x="409" y="634" width="1" height="46"/>
<rect x="417" y="631" width="1" height="49"/>
<rect x="425" y="631" width="1" height="49"/>
<rect x="433" y="634" width="1" height="46"/>
<rect x="441" y="644" width="1" height="36"/>
<rect x="449" y="645" width="1" height="35"/>
<rect x="457" y="649" width="1" height="31"/>
<rect x="465" y="652" width="1" height="28"/>
<rect x="473" y="654" width="1" height="26"/>
<rect x="481" y="652" width="1" height="28"/>
<rect x="489" y="653" width="1" height="27"/>
<rect x="497" y="652" width="1" height="28"/>
<rect x="505" y="650" width="1" height="30"/>
<rect x="513" y="641" width="1" height="39"/>
<rect x="521" y="637" width="1" height="43"/>
<rect x="529" y="635" width="1" height="45"/>
<rect x="537" y="634" width="1" height="46"/>
<rect x="545" y="634" width="1" height="46"/>
<rect x="553" y="639" width="1" height="41"/>
<rect x="561" y="641" width="1" height="39"/>
<rect x="569" y="642" width="1" height="38"/>
<rect x="577" y="641" width="1" height="39"/>
<rect x="585" y="639" width="1" height="41"/>
<rect x="593" y="641" width="1" height="39"/>
<rect x="601" y="639" width="1" height="41"/>
<rect x="609" y="634" width="1" height="46"/>
<rect x="617" y="630" width="1" height="50"/>
<rect x="625" y="625" width="1" height="55"/>
<rect x="633" y="624" width="1" height="56"/>
<rect x="641" y="624" width="1" height="56"/>
<rect x="649" y="615" width="1" height="65"/>
<rect x="657" y="604" width="1" height="76"/>
<rect x="665" y="597" width="1" height="83"/>
<rect x="673" y="592" width="1" height="88"/>
<rect x="681" y="586" width="1" height="94"/>
<rect x="689" y="582" width="1" height="98"/>
<rect x="697" y="579" width="1" height="101"/>
<rect x="705" y="581" width="1" height="99"/>
<rect x="713" y="584" width="1" height="96"/>
<rect x="721" y="588" width="1" height="92"/>
<rect x="729" y="589" width="1" height="91"/>
<rect x="737" y="593" width="1" height="87"/>
<rect x="745" y="603" width="1" height="77"/>
<rect x="753" y="613" width="1" height="67"/>
<rect x="761" y="623" width="1" height="57"/>
<rect x="769" y="630" width="1" height="50"/>
<rect x="777" y="635" width="1" height="45"/>
<rect x="785" y="644" width="1" height="36"/>
<rect x="793" y="653" width="1" height="27"/>
<rect x="801" y="661" width="1" height="19"/>
<rect x="809" y="668" width="1" height="12"/>
<rect x="817" y="676" width="1" height="4"/>
<rect x="833" y="679" width="1" height="9"/>
<rect x="841" y="679" width="1" height="22"/>
<rect x="849" y="679" width="1" height="28"/>
<rect x="857" y="679" width="1" height="32"/>
<rect x="865" y="679" width="1" height="35"/>
<rect x="873" y="679" width="1" height="39"/>
<rect x="881" y="679" width="1" height="34"/>
<rect x="889" y="679" width="1" height="30"/>
<rect x="897" y="679" width="1" height="27"/>
<rect x="905" y="679" width="1" height="28"/>
<rect x="913" y="679" width="1" height="25"/>
<rect x="921" y="679" width="1" height="22"/>
<rect x="929" y="679" width="1" height="23"/>
<rect x="937" y="679" width="1" height="15"/>
<rect x="945" y="679" width="1" height="16"/>
<rect x="953" y="679" width="1" height="19"/>
<rect x="961" y="679" width="1" height="22"/>
<rect x="969" y="679" width="1" height="28"/>
<rect x="977" y="679" width="1" height="35"/>
<rect x="985" y="679" width="1" height="41"/>
<rect x="993" y="679" width="1" height="44"/>
<rect x="1001" y="679" width="1" height="47"/>
<rect x="1009" y="679" width="1" height="48"/>
<rect x="1017" y="679" width="1" height="51"/>
<rect x="1025" y="679" width="1" height="63"/>
<rect x="1033" y="679" width="1" height="75"/>
<rect x="1041" y="679" width="1" height="80"/>
<rect x="1049" y="679" width="1" height="83"/>
<rect x="1057" y="679" width="1" height="86"/>
<rect x="1065" y="679" width="1" height="86"/>
<rect x="1073" y="679" width="1" height="91"/>
<rect x="1081" y="679" width="1" height="89"/>
<rect x="1089" y="679" width="1" height="79"/>
<rect x="1097" y="679" width="1" height="72"/>
<rect x="1105" y="679" width="1" height="66"/>
<rect x="1113" y="679" width="1" height="62"/>
<rect x="1121" y="679" width="1" height="56"/>
<rect x="1129" y="679" width="1" height="51"/>
<rect x="1137" y="679" width="1" height="54"/>
<rect x="1145" y="679" width="1" height="56"/>
<rect x="1153" y="679" width="1" height="63"/>
<rect x="1161" y="679" width="1" height="71"/>
<rect x="1169" y="679" width="1" height="81"/>
<rect x="1177" y="679" width="1" height="87"/>
<rect x="1185" y="679" width="1" height="95"/>
<rect x="1193" y="679" width="1" height="97"/>
<rect x="1201" y="679" width="1" height="95"/>
<rect x="1209" y="679" width="1" height="95"/>
<rect x="1217" y="679" width="1" height="93"/>
<rect x="1225" y="679" width="1" height="85"/>
<rect x="1233" y="679" width="1" height="84"/>
<rect x="1241" y="679" width="1" height="80"/>
<rect x="1249" y="679" width="1" height="74"/>
<rect x="1257" y="679" width="1" height="64"/>
<rect x="1265" y="679" width="1" height="61"/>
<rect x="1273" y="679" width="1" height="56"/>
<rect x="1281" y="679" width="1" height="44"/>
<rect x="1289" y="679" width="1" height="36"/>
<rect x="1297" y="679" width="1" height="30"/>
<rect x="1305" y="679" width="1" height="19"/>
<rect x="1313" y="679" width="1" height="7"/>
<rect x="1321" y="676" width="1" height="4"/>
<rect x="1329" y="665" width="1" height="15"/>
<rect x="1337" y="655" width="1" height="25"/>
<rect x="1345" y="649" width="1" height="31"/>
<rect x="1353" y="641" width="1" height="39"/>
<rect x="1361" y="631" width="1" height="49"/>
<rect x="1369" y="623" width="1" height="57"/>
<rect x="1377" y="614" width="1" height="66"/>
<rect x="1385" y="611" width="1" height="69"/>
<rect x="1393" y="610" width="1" height="70"/>
<rect x="1401" y="611" width="1" height="69"/>
<rect x="1409" y="611" width="1" height="69"/>
<rect x="1417" y="604" width="1" height="76"/>
<rect x="1425" y="604" width="1" height="76"/>
<rect x="1433" y="602" width="1" height="78"/>
<rect x="1441" y="603" width="1" height="77"/>
<rect x="1449" y="604" width="1" height="76"/>
<rect x="1457" y="610" width="1" height="70"/>
<rect x="1465" y="622" width="1" height="58"/>
<rect x="1473" y="633" width="1" height="47"/>
</g>
<polyline points="-7.5,614.3 1.5,607.0 9.5,599.5 17.5,594.3 25.5,590.8 33.5,589.1 41.5,588.9 49.5,589.1 57.5,590.1 65.5,592.9 73.5,595.9 81.5,597.8 89.5,600.2 97.5,602.5 105.5,603.7 113.5,604.7 121.5,607.0 129.5,608.4 137.5,609.6 145.5,611.3 153.5,614.3 161.5,616.7 169.5,618.8 177.5,620.0 185.5,620.7 193.5,620.7 201.5,620.2 209.5,620.0 217.5,619.0 225.5,616.4 233.5,615.0 241.5,614.3 249.5,614.3 257.5,614.8 265.5,614.8 273.5,614.8 281.5,615.0 289.5,615.5 297.5,616.7 305.5,617.6 313.5,621.2 321.5,624.7 329.5,627.7 337.5,631.3 345.5,637.2 353.5,641.4 361.5,645.4 369.5,647.8 377.5,649.7 385.5,649.4 393.5,648.9 401.5,647.8 409.5,645.9 417.5,641.9 425.5,639.1 433.5,638.1 441.5,637.9 449.5,637.9 457.5,638.8 465.5,640.7 473.5,642.4 481.5,644.2 489.5,646.6 497.5,648.2 505.5,649.7 513.5,649.7 521.5,648.2 529.5,646.6 537.5,644.2 545.5,643.1 553.5,641.9 561.5,640.2 569.5,638.8 577.5,638.1 585.5,637.9 593.5,637.9 601.5,638.6 609.5,639.1 617.5,637.9 625.5,636.7 633.5,634.8 641.5,633.2 649.5,629.6 657.5,625.4 665.5,620.7 673.5,616.4 681.5,609.2 689.5,604.6 697.5,600.3 705.5,595.4 713.5,591.2 721.5,587.9 729.5,586.0 737.5,585.8 745.5,586.9 753.5,589.8 761.5,595.1 769.5,599.6 777.5,606.0 785.5,613.0 793.5,620.1 801.5,628.5 809.5,637.0 817.5,644.7 825.5,652.5 833.5,660.2 841.5,668.0 849.5,675.7 857.5,682.8 865.5,689.1 873.5,696.3 881.5,701.5 889.5,705.2 897.5,708.5 905.5,709.7 913.5,710.7 921.5,709.7 929.5,709.0 937.5,706.7 945.5,704.3 953.5,703.1 961.5,702.4 969.5,702.0 977.5,702.7 985.5,703.8 993.5,707.4 1001.5,710.2 1009.5,713.0 1017.5,717.3 1025.5,722.4 1033.5,727.9 1041.5,734.2 1049.5,739.6 1057.5,744.4 1065.5,749.6 1073.5,753.8 1081.5,757.3 1089.5,760.4 1097.5,761.6 1105.5,760.8 1113.5,759.7 1121.5,755.9 1129.5,752.8 1137.5,748.4 1145.5,745.0 1153.5,742.3 1161.5,741.3 1169.5,741.5 1177.5,744.6 1185.5,748.7 1193.5,753.5 1201.5,756.8 1209.5,762.3 1217.5,766.0 1225.5,767.9 1233.5,769.6 1241.5,769.6 1249.5,768.4 1257.5,765.1 1265.5,760.8 1273.5,756.8 1281.5,751.3 1289.5,745.0 1297.5,738.7 1305.5,731.8 1313.5,724.0 1321.5,714.9 1329.5,705.7 1337.5,696.7 1345.5,687.2 1353.5,676.7 1361.5,667.8 1369.5,658.4 1377.5,648.9 1385.5,640.7 1393.5,633.6 1401.5,626.6 1409.5,621.2 1417.5,616.7 1425.5,612.9 1433.5,610.1 1441.5,607.0 1449.5,605.8 1457.5,605.8 1465.5,606.8 1473.5,608.9" fill="none" stroke="#ff0000" stroke-width="1" stroke-dasharray="3 3" shape-rendering="crispEdges"/>
</g>
<text class="ax" transform="translate(-2.5 580.2) scale(0.908 1)" style="fill:#000" text-anchor="start">MACD(12,26,9) 0.002137 0.003182</text>
<text class="ax" transform="translate(1656 577.6) scale(0.906 1)" style="fill:#000" text-anchor="start">0.005014</text>
<text class="ax" transform="translate(1656 682.6) scale(0.906 1)" style="fill:#000" text-anchor="start">0.00</text>
<text class="ax" transform="translate(1656 783.6) scale(0.906 1)" style="fill:#000" text-anchor="start">-0.004812</text>
<rect x="1653" y="569" width="1" height="1" fill="#000" shape-rendering="crispEdges"/>
<rect x="1653" y="679" width="1" height="1" fill="#000" shape-rendering="crispEdges"/>
<rect x="1653" y="785" width="1" height="1" fill="#000" shape-rendering="crispEdges"/>
<rect x="1653" y="790" width="1" height="1" fill="#000" shape-rendering="crispEdges"/>
<rect x="1653" y="930" width="1" height="1" fill="#000" shape-rendering="crispEdges"/>
<g clip-path="url(#c3)">
<line x1="0" y1="818.5" x2="1652" y2="818.5" stroke="#c0c0c0" stroke-width="1" stroke-dasharray="3 3" shape-rendering="crispEdges"/>
<line x1="0" y1="860.5" x2="1652" y2="860.5" stroke="#c0c0c0" stroke-width="1" stroke-dasharray="3 3" shape-rendering="crispEdges"/>
<line x1="0" y1="909.5" x2="1652" y2="909.5" stroke="#c0c0c0" stroke-width="1" stroke-dasharray="3 3" shape-rendering="crispEdges"/>
<polyline points="-7.5,835.9 1.5,835.9 9.5,835.9 17.5,834.7 25.5,843.0 33.5,843.0 41.5,841.1 49.5,837.8 57.5,839.4 65.5,843.0 73.5,840.1 81.5,832.9 89.5,834.0 97.5,839.0 105.5,839.0 113.5,832.9 121.5,848.1 129.5,848.1 137.5,844.6 145.5,844.6 153.5,848.9 161.5,844.6 169.5,831.9 177.5,830.5 185.5,828.9 193.5,834.3 201.5,841.8 209.5,837.8 217.5,834.7 225.5,832.9 233.5,838.7 241.5,838.7 249.5,836.6 257.5,851.9 265.5,834.3 273.5,839.0 281.5,843.7 289.5,851.9 297.5,850.7 305.5,848.9 313.5,868.9 321.5,858.7 329.5,859.0 337.5,863.7 345.5,857.8 353.5,855.9 361.5,843.0 369.5,848.9 377.5,850.0 385.5,848.9 393.5,848.9 401.5,847.0 409.5,841.1 417.5,843.7 425.5,845.8 433.5,851.2 441.5,864.9 449.5,854.3 457.5,856.6 465.5,857.8 473.5,855.9 481.5,850.7 489.5,854.7 497.5,850.5 505.5,844.6 513.5,840.1 521.5,841.8 529.5,844.9 537.5,843.7 545.5,845.3 553.5,855.2 561.5,851.9 569.5,848.9 577.5,844.9 585.5,843.0 593.5,850.0 601.5,843.0 609.5,837.1 617.5,835.9 625.5,832.9 633.5,841.1 641.5,839.9 649.5,827.7 657.5,823.7 665.5,827.0 673.5,825.8 681.5,821.8 689.5,823.7 697.5,823.0 705.5,830.5 713.5,834.7 721.5,830.7 729.5,832.4 737.5,835.4 745.5,854.0 753.5,856.6 761.5,857.8 769.5,855.9 777.5,854.3 785.5,863.7 793.5,868.9 801.5,870.5 809.5,868.9 817.5,875.9 825.5,868.1 833.5,881.1 841.5,887.0 849.5,879.0 857.5,877.8 865.5,879.0 873.5,881.1 881.5,863.0 889.5,863.7 897.5,865.3 905.5,870.7 913.5,863.0 921.5,863.0 929.5,869.6 937.5,853.1 945.5,866.5 953.5,870.7 961.5,871.2 969.5,876.4 977.5,880.9 985.5,880.9 993.5,880.9 1001.5,880.9 1009.5,880.9 1017.5,884.6 1025.5,895.4 1033.5,899.7 1041.5,890.7 1049.5,888.9 1057.5,890.7 1065.5,887.0 1073.5,894.7 1081.5,879.0 1089.5,868.1 1097.5,870.0 1105.5,870.0 1113.5,871.9 1121.5,868.1 1129.5,868.9 1137.5,879.9 1145.5,879.9 1153.5,886.5 1161.5,890.7 1169.5,895.0 1177.5,894.0 1185.5,895.9 1193.5,890.0 1201.5,885.3 1209.5,887.0 1217.5,885.8 1225.5,875.2 1233.5,881.8 1241.5,875.9 1249.5,872.9 1257.5,863.7 1265.5,872.9 1273.5,868.1 1281.5,855.9 1289.5,859.4 1297.5,861.1 1305.5,850.5 1313.5,847.2 1321.5,844.6 1329.5,842.3 1337.5,841.1 1345.5,843.7 1353.5,839.9 1361.5,834.3 1369.5,833.6 1377.5,830.0 1385.5,838.7 1393.5,838.7 1401.5,840.9 1409.5,839.9 1417.5,830.5 1425.5,838.7 1433.5,836.6 1441.5,834.7 1449.5,844.6 1457.5,849.3 1465.5,859.9 1473.5,864.1" fill="none" stroke="#1e90ff" stroke-width="1" shape-rendering="crispEdges"/>
</g>
<text class="ax" transform="translate(-2.5 801.2) scale(0.908 1)" style="fill:#000" text-anchor="start">RSI(14) 47.9938</text>
<text class="ax" transform="translate(1655.6 799.1) scale(0.906 1)" style="fill:#000" text-anchor="start">100</text>
<text class="ax" transform="translate(1655.6 822.1) scale(0.906 1)" style="fill:#000" text-anchor="start">80</text>
<text class="ax" transform="translate(1655.6 864.1) scale(0.906 1)" style="fill:#000" text-anchor="start">50</text>
<text class="ax" transform="translate(1655.6 913.1) scale(0.906 1)" style="fill:#000" text-anchor="start">15</text>
<text class="ax" transform="translate(1655.6 928.1) scale(0.906 1)" style="fill:#000" text-anchor="start">0</text>
<text class="ax" transform="translate(-7 944.2) scale(0.912 1)" style="fill:#000" text-anchor="start">23 Dec 2021</text>
<rect x="57" y="932" width="1" height="3" fill="#000" shape-rendering="crispEdges"/>
<text class="ax" transform="translate(56 944.2) scale(0.912 1)" style="fill:#000" text-anchor="start">27 Dec 04:00</text>
<rect x="121" y="932" width="1" height="3" fill="#000" shape-rendering="crispEdges"/>
<text class="ax" transform="translate(120 944.2) scale(0.912 1)" style="fill:#000" text-anchor="start">28 Dec 12:00</text>
<rect x="185" y="932" width="1" height="3" fill="#000" shape-rendering="crispEdges"/>
<text class="ax" transform="translate(184 944.2) scale(0.912 1)" style="fill:#000" text-anchor="start">29 Dec 20:00</text>
<rect x="249" y="932" width="1" height="3" fill="#000" shape-rendering="crispEdges"/>
<text class="ax" transform="translate(248 944.2) scale(0.912 1)" style="fill:#000" text-anchor="start">31 Dec 04:00</text>
<rect x="313" y="932" width="1" height="3" fill="#000" shape-rendering="crispEdges"/>
<text class="ax" transform="translate(312 944.2) scale(0.912 1)" style="fill:#000" text-anchor="start">3 Jan 12:00</text>
<rect x="377" y="932" width="1" height="3" fill="#000" shape-rendering="crispEdges"/>
<text class="ax" transform="translate(376 944.2) scale(0.912 1)" style="fill:#000" text-anchor="start">4 Jan 20:00</text>
<rect x="441" y="932" width="1" height="3" fill="#000" shape-rendering="crispEdges"/>
<text class="ax" transform="translate(440 944.2) scale(0.912 1)" style="fill:#000" text-anchor="start">6 Jan 04:00</text>
<rect x="505" y="932" width="1" height="3" fill="#000" shape-rendering="crispEdges"/>
<text class="ax" transform="translate(504 944.2) scale(0.912 1)" style="fill:#000" text-anchor="start">7 Jan 12:00</text>
<rect x="569" y="932" width="1" height="3" fill="#000" shape-rendering="crispEdges"/>
<text class="ax" transform="translate(568 944.2) scale(0.912 1)" style="fill:#000" text-anchor="start">10 Jan 20:00</text>
<rect x="633" y="932" width="1" height="3" fill="#000" shape-rendering="crispEdges"/>
<text class="ax" transform="translate(632 944.2) scale(0.912 1)" style="fill:#000" text-anchor="start">12 Jan 04:00</text>
<rect x="697" y="932" width="1" height="3" fill="#000" shape-rendering="crispEdges"/>
<text class="ax" transform="translate(696 944.2) scale(0.912 1)" style="fill:#000" text-anchor="start">13 Jan 12:00</text>
<rect x="761" y="932" width="1" height="3" fill="#000" shape-rendering="crispEdges"/>
<text class="ax" transform="translate(760 944.2) scale(0.912 1)" style="fill:#000" text-anchor="start">16 Jan 23:00</text>
<rect x="825" y="932" width="1" height="3" fill="#000" shape-rendering="crispEdges"/>
<text class="ax" transform="translate(824 944.2) scale(0.912 1)" style="fill:#000" text-anchor="start">18 Jan 04:00</text>
<rect x="889" y="932" width="1" height="3" fill="#000" shape-rendering="crispEdges"/>
<text class="ax" transform="translate(888 944.2) scale(0.912 1)" style="fill:#000" text-anchor="start">19 Jan 12:00</text>
<rect x="953" y="932" width="1" height="3" fill="#000" shape-rendering="crispEdges"/>
<text class="ax" transform="translate(952 944.2) scale(0.912 1)" style="fill:#000" text-anchor="start">20 Jan 20:00</text>
<rect x="1017" y="932" width="1" height="3" fill="#000" shape-rendering="crispEdges"/>
<text class="ax" transform="translate(1016 944.2) scale(0.912 1)" style="fill:#000" text-anchor="start">24 Jan 04:00</text>
<rect x="1081" y="932" width="1" height="3" fill="#000" shape-rendering="crispEdges"/>
<text class="ax" transform="translate(1080 944.2) scale(0.912 1)" style="fill:#000" text-anchor="start">25 Jan 12:00</text>
<rect x="1145" y="932" width="1" height="3" fill="#000" shape-rendering="crispEdges"/>
<text class="ax" transform="translate(1144 944.2) scale(0.912 1)" style="fill:#000" text-anchor="start">26 Jan 20:00</text>
<rect x="1209" y="932" width="1" height="3" fill="#000" shape-rendering="crispEdges"/>
<text class="ax" transform="translate(1208 944.2) scale(0.912 1)" style="fill:#000" text-anchor="start">28 Jan 04:00</text>
<rect x="1273" y="932" width="1" height="3" fill="#000" shape-rendering="crispEdges"/>
<text class="ax" transform="translate(1272 944.2) scale(0.912 1)" style="fill:#000" text-anchor="start">31 Jan 12:00</text>
<rect x="1337" y="932" width="1" height="3" fill="#000" shape-rendering="crispEdges"/>
<text class="ax" transform="translate(1336 944.2) scale(0.912 1)" style="fill:#000" text-anchor="start">1 Feb 20:00</text>
<rect x="1401" y="932" width="1" height="3" fill="#000" shape-rendering="crispEdges"/>
<text class="ax" transform="translate(1400 944.2) scale(0.912 1)" style="fill:#000" text-anchor="start">3 Feb 04:00</text>
<rect x="1465" y="932" width="1" height="3" fill="#000" shape-rendering="crispEdges"/>
<text class="ax" transform="translate(1464 944.2) scale(0.912 1)" style="fill:#000" text-anchor="start">4 Feb 12:00</text>
<rect x="1346.5" y="201.5" width="61" height="18" fill="#fff" stroke="#ff0000" stroke-width="1" shape-rendering="crispEdges"/>
<text x="1349.2" y="217.1" font-family="Liberation Serif, serif" font-size="18.2" fill="#ff0000" stroke="#ff0000" stroke-width="0.25" textLength="57.2" lengthAdjust="spacingAndGlyphs">1.36269</text>
<rect x="1408" y="210" width="9" height="1" fill="#ff0000" shape-rendering="crispEdges"/>
<rect x="1250" y="322" width="7" height="1" fill="#ff0000" shape-rendering="crispEdges"/>
<rect x="1256.5" y="320.5" width="3" height="3" fill="#fff" stroke="#ff0000" stroke-width="1" shape-rendering="crispEdges"/>
<rect x="1260.5" y="310.5" width="73" height="24" fill="#fff" stroke="#ff0000" stroke-width="1" shape-rendering="crispEdges"/>
<text x="1262.4" y="330.6" font-family="Liberation Serif, serif" font-size="23.5" fill="#ff0000" stroke="#ff0000" stroke-width="0.45" textLength="70" lengthAdjust="spacingAndGlyphs">1.35386</text>
<rect x="1394.5" y="357.5" width="61" height="18" fill="#fff" stroke="#ff0000" stroke-width="1" shape-rendering="crispEdges"/>
<text x="1397.2" y="373.1" font-family="Liberation Serif, serif" font-size="18.2" fill="#ff0000" stroke="#ff0000" stroke-width="0.25" textLength="57.2" lengthAdjust="spacingAndGlyphs">1.35039</text>
<rect x="1456.5" y="364.5" width="3" height="3" fill="#fff" stroke="#ff0000" stroke-width="1" shape-rendering="crispEdges"/>
<rect x="1460" y="366" width="5" height="1" fill="#ff0000" shape-rendering="crispEdges"/>
<rect x="1106.5" y="543.5" width="61" height="18" fill="#fff" stroke="#ff0000" stroke-width="1" shape-rendering="crispEdges"/>
<text x="1109.2" y="559.1" font-family="Liberation Serif, serif" font-size="18.2" fill="#ff0000" stroke="#ff0000" stroke-width="0.25" textLength="57.2" lengthAdjust="spacingAndGlyphs">1.33567</text>
<rect x="1168" y="552" width="9" height="1" fill="#ff0000" shape-rendering="crispEdges"/>
<line x1="1423.0" y1="214.2" x2="1475.0" y2="353.0" stroke="#ff0000" stroke-width="3.4" stroke-linecap="butt"/>
<path d="M1478.0 361.0 L1469.6 352.9 L1479.0 349.4 Z" fill="#ff0000"/>
<line x1="1441.2" y1="601.4" x2="1484.5" y2="648.5" stroke="#ff0000" stroke-width="3.4" stroke-linecap="butt"/>
<path d="M1490.2 654.8 L1479.4 650.4 L1486.8 643.7 Z" fill="#ff0000"/>
<line x1="1414.3" y1="821.8" x2="1471.9" y2="866.2" stroke="#ff0000" stroke-width="3.4" stroke-linecap="butt"/>
<path d="M1478.6 871.4 L1467.2 868.9 L1473.3 861.0 Z" fill="#ff0000"/>
</svg>
</body></html>
